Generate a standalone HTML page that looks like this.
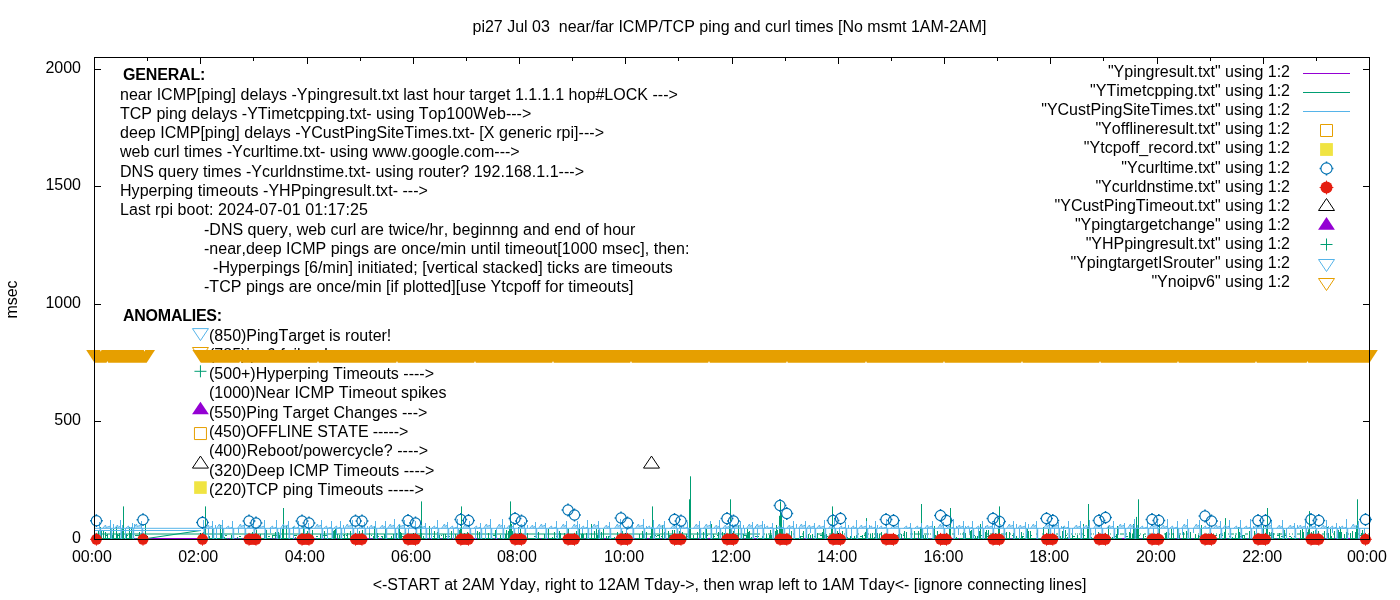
<!DOCTYPE html><html><head><meta charset="utf-8"><title>pi27</title><style>html,body{margin:0;padding:0;background:#fff}</style></head><body><svg width="1400" height="600" viewBox="0 0 1400 600" style="display:block;will-change:transform">
<rect width="1400" height="600" fill="#fff"/>
<path d="M94.50,539.5v-6.5M94.50,57.5v6.5M147.50,539.5v-3.5M147.50,57.5v3.5M200.50,539.5v-6.5M200.50,57.5v6.5M253.50,539.5v-3.5M253.50,57.5v3.5M307.50,539.5v-6.5M307.50,57.5v6.5M360.50,539.5v-3.5M360.50,57.5v3.5M413.50,539.5v-6.5M413.50,57.5v6.5M466.50,539.5v-3.5M466.50,57.5v3.5M519.50,539.5v-6.5M519.50,57.5v6.5M572.50,539.5v-3.5M572.50,57.5v3.5M625.50,539.5v-6.5M625.50,57.5v6.5M678.50,539.5v-3.5M678.50,57.5v3.5M732.50,539.5v-6.5M732.50,57.5v6.5M785.50,539.5v-3.5M785.50,57.5v3.5M838.50,539.5v-6.5M838.50,57.5v6.5M891.50,539.5v-3.5M891.50,57.5v3.5M944.50,539.5v-6.5M944.50,57.5v6.5M997.50,539.5v-3.5M997.50,57.5v3.5M1050.50,539.5v-6.5M1050.50,57.5v6.5M1103.50,539.5v-3.5M1103.50,57.5v3.5M1157.50,539.5v-6.5M1157.50,57.5v6.5M1210.50,539.5v-3.5M1210.50,57.5v3.5M1263.50,539.5v-6.5M1263.50,57.5v6.5M1316.50,539.5v-3.5M1316.50,57.5v3.5M1369.50,539.5v-6.5M1369.50,57.5v6.5M94.5,539.50h6.5M1369.5,539.50h-6.5M94.5,421.50h6.5M1369.5,421.50h-6.5M94.5,304.50h6.5M1369.5,304.50h-6.5M94.5,186.50h6.5M1369.5,186.50h-6.5M94.5,69.50h6.5M1369.5,69.50h-6.5" stroke="#000" stroke-width="1" fill="none"/>
<g font-family="'Liberation Sans', sans-serif" font-size="16px" fill="#000" style="font-kerning:none"><text x="123" y="80" font-weight="bold" textLength="82.4">GENERAL:</text>
<text x="120" y="100" textLength="557.9">near ICMP[ping] delays -Ypingresult.txt last hour target 1.1.1.1 hop#LOCK ---&gt;</text>
<text x="120" y="119">TCP ping delays -YTimetcpping.txt- using Top100Web---&gt;</text>
<text x="120" y="138" textLength="484">deep ICMP[ping] delays -YCustPingSiteTimes.txt- [X generic rpi]---&gt;</text>
<text x="120" y="157">web curl times -Ycurltime.txt- using www.google.com---&gt;</text>
<text x="120" y="177" textLength="464">DNS query times -Ycurldnstime.txt- using router? 192.168.1.1---&gt;</text>
<text x="120" y="196" textLength="307.9">Hyperping timeouts -YHPpingresult.txt- ---&gt;</text>
<text x="120" y="215" textLength="248">Last rpi boot: 2024-07-01 01:17:25</text>
<text x="204" y="235" textLength="431.3">-DNS query, web curl are twice/hr, beginnng and end of hour</text>
<text x="204" y="254" textLength="485.4">-near,deep ICMP pings are once/min until timeout[1000 msec], then:</text>
<text x="213" y="273" textLength="459.8">-Hyperpings [6/min] initiated; [vertical stacked] ticks are timeouts</text>
<text x="204" y="292" textLength="429.4">-TCP pings are once/min [if plotted][use Ytcpoff for timeouts]</text>
<text x="123" y="321" font-weight="bold" textLength="99.1">ANOMALIES:</text>
<text x="209" y="341">(850)PingTarget is router!</text>
<text x="209" y="360">(785)ipv6 failure!</text>
<text x="209" y="379">(500+)Hyperping Timeouts ----&gt;</text>
<text x="209" y="398">(1000)Near ICMP Timeout spikes</text>
<text x="209" y="418">(550)Ping Target Changes ---&gt;</text>
<text x="209" y="437" textLength="199.4">(450)OFFLINE STATE -----&gt;</text>
<text x="209" y="456" textLength="219.1">(400)Reboot/powercycle? ----&gt;</text>
<text x="209" y="476">(320)Deep ICMP Timeouts ----&gt;</text>
<text x="209" y="495">(220)TCP ping Timeouts -----&gt;</text></g>
<path d="M94.5,538.5H1369.5" stroke="#9400d3" stroke-width="1" fill="none"/>
<path d="M94.5,534H760M147,538.5L200.5,530.5M95,538.5h1M96,538.5h1M97.5,539V537M97,538.5h1M98.5,539V531M98,538.5h1M99,538.5h1M100.5,539V527M100,538.5h1M101.5,539V531M101,538.5h1M101,535.5h1M102,538.5h1M103.5,539V530M103,538.5h1M104,538.5h1M105.5,539V532M105,538.5h1M106,538.5h1M106,535.5h2M107.5,539V534M107,538.5h1M108,538.5h1M109,538.5h1M110.5,539V524M110,538.5h1M111,538.5h1M112.5,539V536M112,538.5h1M112,535.5h2M113.5,539V529M113,538.5h1M114,538.5h1M115,538.5h1M116.5,539V527M116,538.5h1M117.5,539V534M117,535.5h2M118,538.5h1M119.5,539V533M119,538.5h1M120,538.5h1M121.5,539V532M121,538.5h1M122.5,539V531M122,538.5h1M123,538.5h1M124,538.5h1M125,538.5h1M126.5,539V534M126,538.5h1M127,538.5h1M127,535.5h1M128,538.5h1M129.5,539V527M129,538.5h1M130.5,539V533M131.5,539V527M131,538.5h1M132,538.5h1M133.5,539V531M133,538.5h1M134,538.5h1M135,535.5h2M136,538.5h1M137,538.5h1M137,535.5h2M138,538.5h1M139.5,539V532M139,538.5h1M140,536.5h2M141.5,539V533M141,538.5h1M142,538.5h1M143,538.5h1M144,538.5h1M145.5,539V524M145,538.5h1M145,535.5h2M146,538.5h1M201,538.5h1M202,538.5h1M203.5,539V532M203,538.5h1M204,538.5h1M205,538.5h1M205,536.5h1M206,538.5h1M207,538.5h1M208,538.5h1M209.5,539V536M209,538.5h1M210,538.5h1M211,538.5h1M212.5,539V529M212,538.5h1M213.5,539V533M213,538.5h1M214,538.5h1M215,538.5h1M216,538.5h1M217,538.5h1M218,538.5h1M219,538.5h1M220.5,539V525M220,538.5h1M221.5,539V533M221,538.5h1M222.5,539V524M222,538.5h1M224.5,539V537M224,538.5h1M225,538.5h1M225,535.5h2M226,538.5h1M228,538.5h1M230,538.5h1M231.5,539V535M231,538.5h1M232,538.5h1M233,538.5h1M235,538.5h1M237.5,539V537M237,538.5h1M239,538.5h1M239,536.5h2M240,538.5h1M241,538.5h1M243,538.5h1M244,538.5h1M245,538.5h1M246,538.5h1M249,538.5h1M250,538.5h1M250,535.5h2M251,538.5h1M252.5,539V532M252,538.5h1M252,536.5h2M253,538.5h1M254.5,539V537M254,538.5h1M256.5,539V530M256,538.5h1M256,536.5h1M257,535.5h1M258.5,539V534M258,538.5h1M259,538.5h1M260.5,539V534M260,538.5h1M261,538.5h1M262,538.5h1M263,538.5h1M264.5,539V533M264,538.5h1M266.5,539V530M266,538.5h1M267,538.5h1M268,538.5h1M268,536.5h2M269,538.5h1M270,538.5h1M272.5,539V535M272,538.5h1M273,538.5h1M273,535.5h2M275.5,539V532M275,538.5h1M276,535.5h1M277,538.5h1M278.5,539V532M278,538.5h1M279.5,539V535M279,538.5h1M280,538.5h1M281,538.5h1M282.5,539V531M282,538.5h1M282,536.5h2M283,538.5h1M284,538.5h1M285,538.5h1M286.5,539V526M287,538.5h1M288,538.5h1M289,538.5h1M290,538.5h1M291,538.5h1M292,538.5h1M293.5,539V527M293,538.5h1M294,535.5h2M295.5,539V537M295,538.5h1M295,535.5h2M296,538.5h1M297,538.5h1M298,538.5h1M299,538.5h1M299,535.5h2M300,538.5h1M301.5,539V537M301,538.5h1M302,538.5h1M303.5,539V526M303,538.5h1M304,538.5h1M305,538.5h1M305,535.5h2M306.5,539V533M306,538.5h1M307.5,539V531M307,538.5h1M307,536.5h1M308,538.5h1M309.5,539V534M309,538.5h1M309,536.5h1M310,538.5h1M311.5,539V536M311,538.5h1M312.5,539V530M312,538.5h1M313,538.5h1M314,538.5h1M316,538.5h1M316,536.5h2M317,538.5h1M318,538.5h1M319,538.5h1M320.5,539V534M320,535.5h1M321,538.5h1M322.5,539V534M322,538.5h1M322,535.5h2M324.5,539V531M324,538.5h1M325,538.5h1M325,535.5h2M326,538.5h1M327.5,539V531M327,538.5h1M328,538.5h1M329,538.5h1M330,538.5h1M331,538.5h1M332.5,539V534M332,538.5h1M333.5,539V531M333,538.5h1M334.5,539V530M334,538.5h1M335.5,539V529M335,538.5h1M337.5,539V534M337,538.5h1M338,538.5h1M339.5,539V535M339,538.5h1M340,538.5h1M341.5,539V532M341,538.5h1M342,538.5h1M343,538.5h1M343,535.5h2M344.5,539V534M345,538.5h1M346,538.5h1M346,535.5h2M347.5,539V533M347,538.5h1M348,538.5h1M349,538.5h1M350.5,539V531M350,538.5h1M351,538.5h1M352,538.5h1M355,538.5h1M356,538.5h1M357.5,539V533M358,538.5h1M359.5,539V531M359,538.5h1M360,538.5h1M361,538.5h1M361,536.5h1M362.5,539V530M362,538.5h1M363.5,539V537M363,538.5h1M364,538.5h1M365,538.5h1M366,538.5h1M369.5,539V531M369,538.5h1M371,538.5h1M371,535.5h1M373.5,539V536M373,538.5h1M374.5,539V526M374,538.5h1M375,538.5h1M376,538.5h1M376,535.5h1M377.5,539V533M377,538.5h1M377,536.5h2M378,538.5h1M380,538.5h1M381,536.5h1M382.5,539V536M382,538.5h1M383,538.5h1M384.5,539V534M385.5,539V529M385,538.5h1M385,536.5h2M387,538.5h1M388,538.5h1M389,538.5h1M390,538.5h1M391.5,539V536M392,538.5h1M393.5,539V534M393,538.5h1M395,538.5h1M396.5,539V533M396,538.5h1M397,538.5h1M398.5,539V537M398,538.5h1M398,535.5h1M399.5,539V524M399,538.5h1M400.5,539V532M401.5,539V533M401,538.5h1M402,538.5h1M402,536.5h2M404,538.5h1M404,536.5h1M405.5,539V532M405,538.5h1M406,538.5h1M407,538.5h1M408,538.5h1M409,538.5h1M410,538.5h1M411,538.5h1M412,538.5h1M412,535.5h2M413,538.5h1M414,538.5h1M415.5,539V533M415,538.5h1M416,538.5h1M417.5,539V535M417,538.5h1M418,538.5h1M419.5,539V535M419,538.5h1M420,538.5h1M420,535.5h2M421.5,539V536M421,538.5h1M422,538.5h1M423.5,539V536M423,538.5h1M424,538.5h1M425,538.5h1M426,538.5h1M427,538.5h1M429.5,539V526M429,538.5h1M431,538.5h1M432,538.5h1M433,538.5h1M433,536.5h2M434.5,539V531M434,538.5h1M435,538.5h1M436,538.5h1M437.5,539V532M437,538.5h1M438,538.5h1M439.5,539V535M440,538.5h1M441,535.5h1M442,538.5h1M443.5,539V534M443,538.5h1M444,538.5h1M445.5,539V534M445,538.5h1M445,536.5h2M446,538.5h1M448,538.5h1M448,536.5h2M449,538.5h1M450,538.5h1M451.5,539V531M451,538.5h1M454,538.5h1M455.5,539V534M455,538.5h1M456,538.5h1M457.5,539V534M457,538.5h1M458,538.5h1M459.5,539V530M459,538.5h1M460,538.5h1M461,538.5h1M462.5,539V534M462,538.5h1M463,538.5h1M464.5,539V533M464,538.5h1M466.5,539V537M467.5,539V532M467,538.5h1M467,536.5h2M468,538.5h1M469,538.5h1M471,538.5h1M472.5,539V537M472,538.5h1M473,538.5h1M475.5,539V534M475,538.5h1M477.5,539V531M477,538.5h1M478,538.5h1M479.5,539V532M480,538.5h1M481.5,539V534M481,538.5h1M482,538.5h1M483,538.5h1M484,538.5h1M485,538.5h1M486,538.5h1M487,538.5h1M488.5,539V533M488,538.5h1M489,538.5h1M490,538.5h1M491.5,539V536M492,538.5h1M493,538.5h1M493,535.5h2M495.5,539V530M495,538.5h1M496,538.5h1M498,538.5h1M499,538.5h1M500.5,539V535M500,538.5h1M501,538.5h1M502,538.5h1M503,538.5h1M504,538.5h1M505.5,539V534M505,538.5h1M506.5,539V530M506,538.5h1M507,538.5h1M508.5,539V531M508,538.5h1M509,538.5h1M510,538.5h1M511.5,539V524M512.5,539V531M512,538.5h1M513,538.5h1M514.5,539V534M514,538.5h1M515,538.5h1M516.5,539V537M516,538.5h1M517,538.5h1M518.5,539V527M518,538.5h1M519.5,539V535M519,538.5h1M520.5,539V529M520,538.5h1M521.5,539V534M521,538.5h1M521,535.5h2M522,538.5h1M523,538.5h1M524.5,539V536M524,538.5h1M526,538.5h1M527.5,539V533M527,538.5h1M528,538.5h1M529,538.5h1M530,538.5h1M531,538.5h1M532,538.5h1M533,538.5h1M534,538.5h1M534,536.5h2M535,538.5h1M536.5,539V537M536,538.5h1M537,538.5h1M538.5,539V532M538,538.5h1M539,538.5h1M541,538.5h1M542,538.5h1M543,538.5h1M544.5,539V534M544,538.5h1M544,536.5h1M545,538.5h1M546,538.5h1M548.5,539V529M548,538.5h1M549,538.5h1M550,538.5h1M551,538.5h1M552.5,539V537M552,538.5h1M553,538.5h1M554.5,539V532M555,538.5h1M556,538.5h1M556,536.5h2M557.5,539V534M557,538.5h1M558,538.5h1M559.5,539V531M559,538.5h1M560.5,539V533M560,538.5h1M561,538.5h1M562,538.5h1M563,538.5h1M564.5,539V533M564,538.5h1M565,538.5h1M566,538.5h1M568.5,539V529M568,538.5h1M570.5,539V537M570,538.5h1M571,538.5h1M573,538.5h1M574.5,539V533M574,538.5h1M576.5,539V531M576,538.5h1M577,538.5h1M578.5,539V534M578,538.5h1M579.5,539V529M579,538.5h1M580,538.5h1M581.5,539V534M582.5,539V531M582,538.5h1M583.5,539V534M583,538.5h1M585,538.5h1M586.5,539V533M586,538.5h1M587,538.5h1M588.5,539V537M588,538.5h1M589,538.5h1M590,538.5h1M591.5,539V524M592,538.5h1M593,538.5h1M594.5,539V531M594,538.5h1M595,538.5h1M596.5,539V529M597.5,539V535M597,538.5h1M598.5,539V530M598,538.5h1M599.5,539V532M599,538.5h1M600,538.5h1M601.5,539V532M601,538.5h1M602,538.5h1M603.5,539V529M603,538.5h1M606.5,539V536M607,538.5h1M608.5,539V536M608,536.5h2M609,538.5h1M610,538.5h1M611,538.5h1M612,538.5h1M613,538.5h1M614.5,539V537M614,538.5h1M617.5,539V532M618,538.5h1M619,538.5h1M621,538.5h1M622.5,539V531M622,538.5h1M623,538.5h1M624,538.5h1M625,538.5h1M626,538.5h1M629.5,539V535M629,538.5h1M631.5,539V536M631,538.5h1M632,538.5h1M633.5,539V534M633,538.5h1M635,538.5h1M636,538.5h1M637,538.5h1M638,538.5h1M639.5,539V534M639,538.5h1M640,538.5h1M641,538.5h1M642.5,539V531M642,538.5h1M643.5,539V534M643,538.5h1M644,538.5h1M645,538.5h1M646.5,539V532M646,538.5h1M649,538.5h1M650.5,539V536M650,538.5h1M651,538.5h1M652.5,539V534M652,538.5h1M654.5,539V532M654,538.5h1M655,538.5h1M655,535.5h1M656,538.5h1M656,536.5h1M657,538.5h1M657,535.5h2M658,538.5h1M659.5,539V534M660,538.5h1M661,536.5h2M662.5,539V525M662,538.5h1M663,538.5h1M664.5,539V532M664,538.5h1M665,538.5h1M667,538.5h1M668.5,539V531M669.5,539V535M669,538.5h1M670,538.5h1M670,535.5h1M671,538.5h1M671,536.5h2M672.5,539V530M672,538.5h1M673.5,539V534M673,538.5h1M674.5,539V530M674,535.5h1M675,538.5h1M677,538.5h1M678,538.5h1M679.5,539V531M679,538.5h1M680,538.5h1M681,538.5h1M682.5,539V532M682,538.5h1M683,538.5h1M684,538.5h1M685,538.5h1M686.5,539V534M686,538.5h1M686,536.5h2M687,538.5h1M688.5,539V531M688,538.5h1M689,538.5h1M690,538.5h1M691,538.5h1M692,538.5h1M693.5,539V535M694,538.5h1M695,538.5h1M696,538.5h1M697.5,539V532M697,538.5h1M699.5,539V529M699,538.5h1M700.5,539V534M700,538.5h1M701,538.5h1M702,538.5h1M703.5,539V532M703,538.5h1M704,538.5h1M705,538.5h1M705,536.5h2M706.5,539V529M706,538.5h1M706,535.5h2M707,538.5h1M710,538.5h1M711.5,539V524M712,538.5h1M713.5,539V534M713,538.5h1M713,536.5h2M714,538.5h1M715,538.5h1M716,538.5h1M717,538.5h1M717,535.5h2M718.5,539V532M718,538.5h1M719,538.5h1M720,538.5h1M720,536.5h1M721,538.5h1M722.5,539V532M722,538.5h1M723,538.5h1M724.5,539V533M725,538.5h1M726,538.5h1M727,538.5h1M728,538.5h1M729.5,539V535M729,538.5h1M729,535.5h1M731.5,539V530M731,538.5h1M733.5,539V531M733,538.5h1M734,538.5h1M735.5,539V534M735,538.5h1M736,538.5h1M736,535.5h2M738.5,539V525M738,538.5h1M739,538.5h1M740,538.5h1M741.5,539V535M741,538.5h1M742,538.5h1M743.5,539V534M743,538.5h1M744,535.5h2M745,538.5h1M746.5,539V535M746,538.5h1M747.5,539V529M747,538.5h1M748.5,539V532M748,538.5h1M749.5,539V531M749,538.5h1M750,538.5h1M751.5,539V537M751,538.5h1M752,538.5h1M753.5,539V534M753,538.5h1M755,536.5h2M756,538.5h1M757.5,539V530M757,538.5h1M758,538.5h1M758,536.5h1M759,538.5h1M760,538.5h1M761,538.5h1M762.5,539V536M762,538.5h1M763,538.5h1M764,538.5h1M764,534h1M765,538.5h1M766.5,539V534M766,538.5h1M766,534h1M767,538.5h1M768,538.5h1M768,534h1M769.5,539V535M769,538.5h1M769,534h1M769,535.5h2M770.5,539V530M770,538.5h1M770,534h1M771.5,539V535M771,538.5h1M771,534h1M772,538.5h1M773,538.5h1M774,538.5h1M775.5,539V531M775,538.5h1M775,534h1M776.5,539V525M776,538.5h1M777.5,539V530M777,534h1M778,538.5h1M778,534h1M779,538.5h1M780.5,539V529M780,534h1M781,538.5h1M782.5,539V529M782,538.5h1M783,538.5h1M783,534h1M783,535.5h1M784.5,539V534M785,536.5h2M786,538.5h1M787.5,539V537M787,534h1M788,538.5h1M788,534h1M789,538.5h1M789,534h1M790,538.5h1M791.5,539V531M791,538.5h1M792,538.5h1M793,538.5h1M793,534h1M794,538.5h1M795,538.5h1M796,538.5h1M797,538.5h1M798,538.5h1M799,538.5h1M799,534h1M800.5,539V536M800,538.5h1M801,538.5h1M801,536.5h2M802,538.5h1M802,534h1M802,536.5h1M803.5,539V531M803,538.5h1M806.5,539V535M807,538.5h1M808.5,539V534M808,538.5h1M809,538.5h1M809,534h1M810.5,539V535M810,538.5h1M812.5,539V534M813,538.5h1M814,538.5h1M814,536.5h2M816,538.5h1M817.5,539V533M817,538.5h1M818,538.5h1M818,534h1M819,538.5h1M819,534h1M820,538.5h1M820,534h1M820,535.5h2M821,538.5h1M821,534h1M822.5,539V532M822,538.5h1M823.5,539V529M823,538.5h1M824.5,539V535M824,538.5h1M824,534h1M824,535.5h2M826.5,539V534M826,538.5h1M826,536.5h2M827,538.5h1M828,538.5h1M829,538.5h1M829,534h1M830,538.5h1M830,534h1M831,538.5h1M832,538.5h1M832,534h1M832,535.5h2M833.5,539V534M833,534h1M833,536.5h2M834,538.5h1M834,534h1M835,538.5h1M836,538.5h1M836,534h1M837.5,539V531M837,538.5h1M838,538.5h1M839.5,539V537M840,538.5h1M840,534h1M841,538.5h1M842.5,539V531M842,538.5h1M843,538.5h1M844,538.5h1M844,534h1M845,538.5h1M846.5,539V532M846,534h1M847.5,539V537M847,538.5h1M848,538.5h1M849,538.5h1M850.5,539V536M850,538.5h1M851,534h1M852,538.5h1M853,538.5h1M854.5,539V536M854,538.5h1M855,538.5h1M856.5,539V535M856,538.5h1M858,538.5h1M858,534h1M859,538.5h1M860,538.5h1M860,536.5h2M861,538.5h1M862.5,539V535M862,538.5h1M863,538.5h1M864,538.5h1M864,534h1M864,535.5h2M865,538.5h1M865,534h1M866,538.5h1M867.5,539V535M867,538.5h1M867,534h1M868,538.5h1M868,534h1M869,538.5h1M870.5,539V534M870,538.5h1M870,534h1M871,538.5h1M872.5,539V533M872,538.5h1M873,538.5h1M874.5,539V537M874,538.5h1M874,534h1M875.5,539V529M875,538.5h1M875,534h1M876,538.5h1M876,535.5h2M877.5,539V533M877,538.5h1M877,534h1M878,538.5h1M879.5,539V534M879,538.5h1M879,534h1M880,538.5h1M880,534h1M881.5,539V532M881,538.5h1M881,534h1M882,538.5h1M883,538.5h1M884,538.5h1M884,534h1M886.5,539V534M886,538.5h1M886,534h1M887,538.5h1M887,534h1M888,538.5h1M889,538.5h1M890,535.5h2M891,538.5h1M892,538.5h1M892,535.5h1M893,538.5h1M895,538.5h1M895,535.5h2M897,535.5h2M898.5,539V534M898,538.5h1M899.5,539V530M899,538.5h1M900,538.5h1M900,534h1M901.5,539V534M901,538.5h1M903,538.5h1M903,534h1M903,535.5h2M904.5,539V531M904,538.5h1M905,538.5h1M906.5,539V532M906,538.5h1M906,534h1M907,538.5h1M908,538.5h1M909,538.5h1M910,538.5h1M910,534h1M911.5,539V531M911,538.5h1M912,538.5h1M912,534h1M913,538.5h1M914.5,539V531M914,538.5h1M915,538.5h1M915,534h1M916,538.5h1M916,534h1M917,534h1M918.5,539V531M918,538.5h1M918,534h1M919,538.5h1M919,534h1M920,538.5h1M920,534h1M921.5,539V536M921,538.5h1M922.5,539V529M922,538.5h1M922,534h1M923.5,539V535M924,538.5h1M924,534h1M925.5,539V535M925,534h1M926,538.5h1M926,534h1M927.5,539V533M927,538.5h1M928,538.5h1M928,534h1M929,538.5h1M930,534h1M931,538.5h1M932,538.5h1M933,538.5h1M933,534h1M934.5,539V526M934,538.5h1M935.5,539V535M935,538.5h1M936,538.5h1M937.5,539V531M937,538.5h1M938,538.5h1M939,538.5h1M940,538.5h1M941,538.5h1M942,538.5h1M943,538.5h1M944,538.5h1M945,538.5h1M946,538.5h1M946,534h1M947,534h1M948,538.5h1M949.5,539V535M949,538.5h1M950,538.5h1M951,538.5h1M952,534h1M953,538.5h1M953,534h1M954.5,539V533M954,538.5h1M954,534h1M955,538.5h1M956.5,539V537M956,538.5h1M957,538.5h1M958,538.5h1M958,534h1M960,538.5h1M960,534h1M961,538.5h1M962,538.5h1M962,534h1M963.5,539V532M963,535.5h1M964,538.5h1M965.5,539V533M965,538.5h1M965,534h1M966,538.5h1M967,538.5h1M968,538.5h1M969,538.5h1M969,534h1M970.5,539V531M970,538.5h1M971.5,539V530M971,538.5h1M972,538.5h1M973.5,539V534M973,538.5h1M973,534h1M974,538.5h1M974,535.5h1M975.5,539V536M975,538.5h1M976,538.5h1M977.5,539V536M977,538.5h1M978,538.5h1M979.5,539V531M979,538.5h1M980.5,539V524M980,538.5h1M980,534h1M980,535.5h2M981,538.5h1M982,538.5h1M983,538.5h1M983,534h1M984,538.5h1M985.5,539V532M985,538.5h1M986.5,539V530M986,538.5h1M986,535.5h1M987,538.5h1M987,534h1M987,536.5h2M988.5,539V530M988,538.5h1M989,538.5h1M989,535.5h2M990.5,539V536M990,538.5h1M990,534h1M991,538.5h1M991,534h1M992.5,539V533M992,538.5h1M993,538.5h1M994,538.5h1M995.5,539V533M995,538.5h1M996,538.5h1M996,534h1M997,538.5h1M997,536.5h2M998.5,539V536M998,538.5h1M998,536.5h2M999,538.5h1M1000,538.5h1M1001,538.5h1M1001,534h1M1002,538.5h1M1002,534h1M1003,538.5h1M1003,534h1M1004,538.5h1M1005,538.5h1M1005,534h1M1006.5,539V532M1007,538.5h1M1008,538.5h1M1009.5,539V532M1009,538.5h1M1010,538.5h1M1010,534h1M1012,538.5h1M1012,535.5h2M1013.5,539V533M1013,538.5h1M1014,538.5h1M1014,534h1M1015,538.5h1M1016.5,539V536M1016,538.5h1M1017,538.5h1M1018,538.5h1M1020,538.5h1M1021.5,539V532M1021,538.5h1M1022.5,539V536M1022,536.5h2M1023,538.5h1M1023,534h1M1024,538.5h1M1025,538.5h1M1026.5,539V534M1026,538.5h1M1027.5,539V529M1027,538.5h1M1028.5,539V531M1028,538.5h1M1029,538.5h1M1030.5,539V531M1030,538.5h1M1030,535.5h2M1031,538.5h1M1032,538.5h1M1033,538.5h1M1034,538.5h1M1035,538.5h1M1036,534h1M1037.5,539V530M1037,534h1M1038,538.5h1M1039,538.5h1M1040,538.5h1M1042.5,539V537M1042,538.5h1M1042,534h1M1042,536.5h2M1043.5,539V527M1043,538.5h1M1044.5,539V536M1044,538.5h1M1046,538.5h1M1046,534h1M1047,538.5h1M1047,534h1M1048.5,539V529M1048,538.5h1M1049,535.5h1M1050,538.5h1M1050,534h1M1051,538.5h1M1052,538.5h1M1052,534h1M1053,538.5h1M1054,538.5h1M1054,534h1M1056,538.5h1M1056,534h1M1057,538.5h1M1057,534h1M1057,536.5h1M1059,538.5h1M1060.5,539V536M1060,538.5h1M1061,538.5h1M1062.5,539V531M1063.5,539V527M1063,538.5h1M1064,538.5h1M1065.5,539V530M1065,538.5h1M1065,534h1M1065,535.5h2M1066,538.5h1M1067.5,539V537M1067,538.5h1M1067,534h1M1069.5,539V535M1069,538.5h1M1070,538.5h1M1071,538.5h1M1071,534h1M1072.5,539V532M1072,538.5h1M1072,534h1M1073,538.5h1M1073,536.5h2M1074,538.5h1M1075,538.5h1M1075,534h1M1076,538.5h1M1077.5,539V535M1077,538.5h1M1077,534h1M1078,538.5h1M1079,538.5h1M1079,534h1M1080,538.5h1M1081.5,539V532M1081,538.5h1M1082,538.5h1M1082,534h1M1083.5,539V524M1083,538.5h1M1083,534h1M1083,535.5h2M1084,538.5h1M1085,538.5h1M1086,538.5h1M1087,538.5h1M1088,538.5h1M1089,538.5h1M1090,538.5h1M1090,534h1M1091.5,539V537M1091,538.5h1M1091,534h1M1092,538.5h1M1093,538.5h1M1093,534h1M1094,538.5h1M1095.5,539V531M1095,538.5h1M1095,534h1M1096,538.5h1M1097,538.5h1M1098.5,539V532M1098,538.5h1M1098,534h1M1098,536.5h2M1099,538.5h1M1100,538.5h1M1100,534h1M1100,535.5h1M1101,538.5h1M1102,538.5h1M1102,534h1M1103,536.5h1M1104.5,539V534M1104,538.5h1M1104,534h1M1105,534h1M1106.5,539V534M1106,538.5h1M1106,536.5h1M1107,538.5h1M1108.5,539V526M1108,538.5h1M1110.5,539V537M1110,534h1M1111,538.5h1M1112.5,539V537M1113,538.5h1M1114.5,539V533M1114,538.5h1M1114,534h1M1115,538.5h1M1115,536.5h1M1116.5,539V534M1116,538.5h1M1117.5,539V526M1117,538.5h1M1118,538.5h1M1119,538.5h1M1120,538.5h1M1120,534h1M1121,538.5h1M1121,534h1M1122,534h1M1123,534h1M1125,538.5h1M1126,538.5h1M1126,534h1M1126,536.5h2M1127,538.5h1M1128,538.5h1M1129.5,539V532M1129,538.5h1M1129,534h1M1129,535.5h2M1130.5,539V532M1130,538.5h1M1130,534h1M1131,538.5h1M1132.5,539V534M1132,538.5h1M1132,534h1M1133.5,539V524M1133,538.5h1M1133,534h1M1134.5,539V525M1134,538.5h1M1134,534h1M1135.5,539V536M1135,538.5h1M1135,534h1M1136,538.5h1M1137.5,539V534M1137,538.5h1M1137,534h1M1138,538.5h1M1139,538.5h1M1139,535.5h1M1140,538.5h1M1140,534h1M1142,538.5h1M1143.5,539V534M1143,538.5h1M1144,538.5h1M1144,534h1M1145,538.5h1M1145,534h1M1145,536.5h1M1146,538.5h1M1147,538.5h1M1148,538.5h1M1148,534h1M1149,534h1M1150,538.5h1M1150,534h1M1151.5,539V534M1151,538.5h1M1151,535.5h1M1152,538.5h1M1153,538.5h1M1154,538.5h1M1154,534h1M1156,538.5h1M1157,538.5h1M1157,534h1M1158,538.5h1M1159.5,539V524M1159,538.5h1M1159,534h1M1160,538.5h1M1161,538.5h1M1162,538.5h1M1163.5,539V537M1164,538.5h1M1164,534h1M1165.5,539V533M1165,538.5h1M1166.5,539V532M1166,538.5h1M1167,538.5h1M1168.5,539V532M1168,538.5h1M1169,538.5h1M1169,534h1M1170,538.5h1M1171.5,539V529M1171,534h1M1172,538.5h1M1172,534h1M1173.5,539V531M1173,538.5h1M1174,538.5h1M1175,538.5h1M1177.5,539V527M1177,538.5h1M1178,538.5h1M1178,534h1M1179.5,539V535M1179,534h1M1179,536.5h1M1180,534h1M1181,538.5h1M1182,538.5h1M1183.5,539V532M1184,538.5h1M1184,534h1M1185,538.5h1M1186.5,539V531M1186,538.5h1M1186,534h1M1187,538.5h1M1187,534h1M1188,538.5h1M1189,538.5h1M1190.5,539V532M1190,534h1M1190,535.5h1M1191,538.5h1M1193,538.5h1M1194,538.5h1M1195.5,539V534M1195,538.5h1M1196,538.5h1M1197,538.5h1M1198.5,539V535M1198,538.5h1M1198,534h1M1199,538.5h1M1199,536.5h2M1200,538.5h1M1201.5,539V525M1201,538.5h1M1202,538.5h1M1203,538.5h1M1204,538.5h1M1205,538.5h1M1206.5,539V534M1206,538.5h1M1206,534h1M1207,538.5h1M1207,535.5h1M1208,538.5h1M1208,534h1M1209,538.5h1M1210.5,539V534M1210,538.5h1M1211,538.5h1M1212,538.5h1M1213.5,539V534M1213,538.5h1M1213,534h1M1214,538.5h1M1215,538.5h1M1215,535.5h2M1216,538.5h1M1216,534h1M1217,538.5h1M1218,538.5h1M1219.5,539V534M1219,538.5h1M1220,538.5h1M1220,534h1M1221,534h1M1222,538.5h1M1222,534h1M1222,535.5h1M1223,538.5h1M1225,538.5h1M1225,534h1M1227,538.5h1M1228,538.5h1M1228,534h1M1229,538.5h1M1229,536.5h2M1230,534h1M1231,538.5h1M1231,534h1M1232.5,539V537M1232,538.5h1M1232,534h1M1233,538.5h1M1233,534h1M1234,538.5h1M1235.5,539V535M1235,538.5h1M1235,534h1M1236,538.5h1M1236,534h1M1237,538.5h1M1238.5,539V527M1238,538.5h1M1238,534h1M1239.5,539V532M1239,538.5h1M1240,534h1M1240,536.5h2M1242.5,539V535M1242,538.5h1M1243,538.5h1M1243,535.5h2M1244.5,539V535M1244,538.5h1M1245,538.5h1M1245,534h1M1246,538.5h1M1246,534h1M1247,534h1M1248,538.5h1M1249.5,539V531M1249,538.5h1M1250,538.5h1M1252,538.5h1M1253,538.5h1M1254.5,539V531M1254,538.5h1M1254,536.5h2M1255,538.5h1M1255,534h1M1257,538.5h1M1257,534h1M1258,538.5h1M1258,534h1M1259.5,539V536M1259,538.5h1M1259,534h1M1260,538.5h1M1260,535.5h2M1261.5,539V534M1261,538.5h1M1262,538.5h1M1263.5,539V526M1263,538.5h1M1264,538.5h1M1265,538.5h1M1266,538.5h1M1267,538.5h1M1268,538.5h1M1269.5,539V532M1269,538.5h1M1269,535.5h2M1270,538.5h1M1270,534h1M1271.5,539V532M1271,538.5h1M1271,534h1M1272,538.5h1M1272,534h1M1273.5,539V533M1273,538.5h1M1273,534h1M1274,538.5h1M1274,534h1M1275,538.5h1M1277,538.5h1M1277,534h1M1277,535.5h2M1278,538.5h1M1278,534h1M1279.5,539V533M1279,538.5h1M1279,534h1M1280,538.5h1M1280,534h1M1281,538.5h1M1281,534h1M1281,536.5h2M1282,538.5h1M1284.5,539V530M1284,538.5h1M1284,534h1M1284,535.5h2M1285,538.5h1M1285,534h1M1286,538.5h1M1287,538.5h1M1288,538.5h1M1289,534h1M1289,536.5h2M1290,538.5h1M1291.5,539V537M1292,538.5h1M1292,534h1M1293,538.5h1M1294,538.5h1M1294,536.5h1M1295,538.5h1M1296,538.5h1M1297,538.5h1M1297,534h1M1298,538.5h1M1298,534h1M1299,534h1M1300.5,539V530M1301,538.5h1M1302.5,539V529M1302,538.5h1M1303.5,539V532M1303,538.5h1M1304,538.5h1M1305,538.5h1M1306,538.5h1M1306,534h1M1307.5,539V532M1307,538.5h1M1307,534h1M1308,534h1M1309,538.5h1M1310,538.5h1M1311.5,539V532M1311,538.5h1M1312,538.5h1M1312,534h1M1313.5,539V531M1313,538.5h1M1313,534h1M1313,536.5h2M1314,538.5h1M1315.5,539V530M1315,538.5h1M1315,536.5h2M1316.5,539V536M1316,538.5h1M1316,534h1M1317,538.5h1M1317,534h1M1318.5,539V531M1318,538.5h1M1319.5,539V534M1319,538.5h1M1320,538.5h1M1321.5,539V536M1321,538.5h1M1321,536.5h1M1322,538.5h1M1322,534h1M1323,538.5h1M1323,534h1M1324.5,539V531M1324,538.5h1M1324,534h1M1326,538.5h1M1326,534h1M1327.5,539V527M1327,538.5h1M1327,534h1M1328.5,539V533M1328,534h1M1329,538.5h1M1330.5,539V529M1330,538.5h1M1330,536.5h2M1331.5,539V537M1332,538.5h1M1333,538.5h1M1333,534h1M1334.5,539V531M1334,538.5h1M1336,538.5h1M1337,538.5h1M1338.5,539V530M1338,538.5h1M1339.5,539V532M1339,538.5h1M1339,534h1M1340.5,539V527M1340,538.5h1M1341.5,539V532M1341,538.5h1M1343,538.5h1M1344.5,539V534M1344,538.5h1M1345,538.5h1M1346.5,539V532M1346,538.5h1M1346,534h1M1347.5,539V532M1347,538.5h1M1347,534h1M1348,534h1M1350.5,539V533M1350,538.5h1M1351,538.5h1M1352.5,539V531M1353,538.5h1M1354,538.5h1M1355.5,539V532M1355,538.5h1M1356,534h1M1357.5,539V531M1357,538.5h1M1357,534h1M1358,534h1M1359,538.5h1M1359,535.5h2M1361.5,539V533M1361,534h1M1362.5,539V530M1362,538.5h1M1363,538.5h1M1363,534h1M1364,538.5h1M1365,538.5h1M1365,534h1M1366.5,539V537M1366,538.5h1M1367,538.5h1M1368,538.5h1M1368,534h1M123.5,539V506.4M122.5,539V527.7M205.5,539V506.4M204.5,539V527.7M283.5,539V508.0M282.5,539V528.3M421.5,539V501.4M420.5,539V526.0M461.5,539V506.4M460.5,539V527.7M510.5,539V501.4M509.5,539V526.0M652.5,539V506.4M651.5,539V527.7M690.5,539V476.3M689.5,539V517.2M730.5,539V499.3M729.5,539V525.3M780.5,539V501.4M779.5,539V526.0M832.5,539V506.4M831.5,539V527.7M866.5,539V518.1M865.5,539V531.9M921.5,539V504.0M920.5,539V526.9M950.5,539V508.0M949.5,539V528.3M999.5,539V506.4M998.5,539V527.7M1088.5,539V504.0M1087.5,539V526.9M1138.5,539V499.3M1137.5,539V525.3M1225.5,539V518.1M1224.5,539V531.9M1267.5,539V508.0M1266.5,539V528.3M1309.5,539V511.1M1308.5,539V529.4M1357.5,539V499.3M1356.5,539V525.3M689.5,539V499.3M781.5,539V513.4M779.5,539V515.8M1136.5,539V516.9" stroke="#009e73" stroke-width="1" fill="none"/>
<path d="M103.5,528.5L105.5,526L106.2,528L110.5,526.5V528.5zM115.5,528.5L117.5,526L118.2,528L120.5,526.5V528.5zM126.5,528.5L128.5,527L129.2,529L132.5,527.5V528.5zM134.5,528.5L136.5,525L137.2,527L141.5,525.5V528.5zM206.5,528.5L208.5,526L209.2,528L212.5,526.5V528.5zM217.5,528.5L219.5,525L220.2,527L222.5,525.5V528.5zM226.5,528.5L228.5,527L229.2,529L232.5,527.5V528.5zM238.5,528.5L240.5,525L241.2,527L244.5,525.5V528.5zM247.5,528.5L249.5,527L250.2,529L253.5,527.5V528.5zM257.5,528.5L259.5,526L260.2,528L264.5,526.5V528.5zM270.5,528.5L272.5,527L273.2,529L276.5,527.5V528.5zM281.5,528.5L283.5,525L284.2,527L288.5,525.5V528.5zM292.5,528.5L294.5,527L295.2,529L298.5,527.5V528.5zM302.5,528.5L304.5,527L305.2,529L308.5,527.5V528.5zM315.5,528.5L317.5,525L318.2,527L321.5,525.5V528.5zM324.5,528.5L326.5,527L327.2,529L331.5,527.5V528.5zM334.5,528.5L336.5,527L337.2,529L340.5,527.5V528.5zM345.5,528.5L347.5,525L348.2,527L352.5,525.5V528.5zM359.5,528.5L361.5,526L362.2,528L364.5,526.5V528.5zM369.5,528.5L371.5,526L372.2,528L375.5,526.5V528.5zM380.5,528.5L382.5,526L383.2,528L385.5,526.5V528.5zM388.5,528.5L390.5,525L391.2,527L394.5,525.5V528.5zM397.5,528.5L399.5,525L400.2,527L404.5,525.5V528.5zM409.5,528.5L411.5,526L412.2,528L415.5,526.5V528.5zM419.5,528.5L421.5,526L422.2,528L425.5,526.5V528.5zM432.5,528.5L434.5,527L435.2,529L437.5,527.5V528.5zM442.5,528.5L444.5,525L445.2,527L447.5,525.5V528.5zM450.5,528.5L452.5,527L453.2,529L457.5,527.5V528.5zM463.5,528.5L465.5,525L466.2,527L469.5,525.5V528.5zM474.5,528.5L476.5,527L477.2,529L480.5,527.5V528.5zM484.5,528.5L486.5,525L487.2,527L490.5,525.5V528.5zM497.5,528.5L499.5,525L500.2,527L502.5,525.5V528.5zM507.5,528.5L509.5,526L510.2,528L513.5,526.5V528.5zM519.5,528.5L521.5,525L522.2,527L524.5,525.5V528.5zM530.5,528.5L532.5,526L533.2,528L535.5,526.5V528.5zM539.5,528.5L541.5,525L542.2,527L545.5,525.5V528.5zM549.5,528.5L551.5,527L552.2,529L556.5,527.5V528.5zM561.5,528.5L563.5,525L564.2,527L566.5,525.5V528.5zM572.5,528.5L574.5,525L575.2,527L577.5,525.5V528.5zM581.5,528.5L583.5,527L584.2,529L587.5,527.5V528.5zM592.5,528.5L594.5,525L595.2,527L598.5,525.5V528.5zM604.5,528.5L606.5,526L607.2,528L609.5,526.5V528.5zM615.5,528.5L617.5,525L618.2,527L620.5,525.5V528.5zM626.5,528.5L628.5,527L629.2,529L632.5,527.5V528.5zM636.5,528.5L638.5,525L639.2,527L643.5,525.5V528.5zM647.5,528.5L649.5,527L650.2,529L653.5,527.5V528.5zM657.5,528.5L659.5,525L660.2,527L664.5,525.5V528.5zM671.5,528.5L673.5,526L674.2,528L676.5,526.5V528.5zM681.5,528.5L683.5,527L684.2,529L687.5,527.5V528.5zM694.5,528.5L696.5,525L697.2,527L699.5,525.5V528.5zM704.5,528.5L706.5,525L707.2,527L710.5,525.5V528.5zM714.5,528.5L716.5,526L717.2,528L719.5,526.5V528.5zM723.5,528.5L725.5,526L726.2,528L730.5,526.5V528.5zM733.5,528.5L735.5,525L736.2,527L740.5,525.5V528.5zM747.5,528.5L749.5,525L750.2,527L752.5,525.5V528.5zM755.5,528.5L757.5,525L758.2,527L762.5,525.5V528.5zM765.5,528.5L767.5,527L768.2,529L772.5,527.5V528.5zM777.5,528.5L779.5,527L780.2,529L783.5,527.5V528.5zM787.5,528.5L789.5,526L790.2,528L793.5,526.5V528.5zM799.5,528.5L801.5,525L802.2,527L805.5,525.5V528.5zM807.5,528.5L809.5,526L810.2,528L814.5,526.5V528.5zM817.5,528.5L819.5,526L820.2,528L824.5,526.5V528.5zM829.5,528.5L831.5,525L832.2,527L834.5,525.5V528.5zM839.5,528.5L841.5,527L842.2,529L845.5,527.5V528.5zM851.5,528.5L853.5,527L854.2,529L856.5,527.5V528.5zM859.5,528.5L861.5,526L862.2,528L866.5,526.5V528.5zM869.5,528.5L871.5,527L872.2,529L875.5,527.5V528.5zM879.5,528.5L881.5,527L882.2,529L886.5,527.5V528.5zM891.5,528.5L893.5,526L894.2,528L898.5,526.5V528.5zM904.5,528.5L906.5,527L907.2,529L910.5,527.5V528.5zM915.5,528.5L917.5,527L918.2,529L921.5,527.5V528.5zM925.5,528.5L927.5,526L928.2,528L932.5,526.5V528.5zM938.5,528.5L940.5,525L941.2,527L943.5,525.5V528.5zM947.5,528.5L949.5,527L950.2,529L953.5,527.5V528.5zM957.5,528.5L959.5,526L960.2,528L963.5,526.5V528.5zM966.5,528.5L968.5,527L969.2,529L972.5,527.5V528.5zM976.5,528.5L978.5,527L979.2,529L982.5,527.5V528.5zM985.5,528.5L987.5,526L988.2,528L992.5,526.5V528.5zM998.5,528.5L1000.5,525L1001.2,527L1003.5,525.5V528.5zM1007.5,528.5L1009.5,525L1010.2,527L1013.5,525.5V528.5zM1018.5,528.5L1020.5,526L1021.2,528L1025.5,526.5V528.5zM1031.5,528.5L1033.5,525L1034.2,527L1036.5,525.5V528.5zM1044.5,528.5L1046.5,525L1047.2,527L1049.5,525.5V528.5zM1051.5,528.5L1053.5,525L1054.2,527L1058.5,525.5V528.5zM1062.5,528.5L1064.5,527L1065.2,529L1068.5,527.5V528.5zM1074.5,528.5L1076.5,526L1077.2,528L1080.5,526.5V528.5zM1084.5,528.5L1086.5,526L1087.2,528L1089.5,526.5V528.5zM1094.5,528.5L1096.5,525L1097.2,527L1101.5,525.5V528.5zM1107.5,528.5L1109.5,526L1110.2,528L1113.5,526.5V528.5zM1118.5,528.5L1120.5,525L1121.2,527L1124.5,525.5V528.5zM1128.5,528.5L1130.5,525L1131.2,527L1134.5,525.5V528.5zM1140.5,528.5L1142.5,527L1143.2,529L1147.5,527.5V528.5zM1150.5,528.5L1152.5,525L1153.2,527L1157.5,525.5V528.5zM1161.5,528.5L1163.5,526L1164.2,528L1167.5,526.5V528.5zM1170.5,528.5L1172.5,527L1173.2,529L1177.5,527.5V528.5zM1182.5,528.5L1184.5,525L1185.2,527L1187.5,525.5V528.5zM1194.5,528.5L1196.5,525L1197.2,527L1199.5,525.5V528.5zM1203.5,528.5L1205.5,527L1206.2,529L1209.5,527.5V528.5zM1214.5,528.5L1216.5,526L1217.2,528L1220.5,526.5V528.5zM1223.5,528.5L1225.5,526L1226.2,528L1229.5,526.5V528.5zM1234.5,528.5L1236.5,527L1237.2,529L1240.5,527.5V528.5zM1244.5,528.5L1246.5,527L1247.2,529L1250.5,527.5V528.5zM1254.5,528.5L1256.5,526L1257.2,528L1261.5,526.5V528.5zM1266.5,528.5L1268.5,525L1269.2,527L1271.5,525.5V528.5zM1277.5,528.5L1279.5,526L1280.2,528L1282.5,526.5V528.5zM1288.5,528.5L1290.5,526L1291.2,528L1294.5,526.5V528.5zM1298.5,528.5L1300.5,526L1301.2,528L1305.5,526.5V528.5zM1309.5,528.5L1311.5,526L1312.2,528L1315.5,526.5V528.5zM1321.5,528.5L1323.5,526L1324.2,528L1326.5,526.5V528.5zM1330.5,528.5L1332.5,527L1333.2,529L1336.5,527.5V528.5zM1340.5,528.5L1342.5,527L1343.2,529L1346.5,527.5V528.5zM1351.5,528.5L1353.5,525L1354.2,527L1358.5,525.5V528.5z" fill="#56b4e9" fill-opacity="0.45" stroke="none"/>
<path d="M94.5,528.3H1369.5M94.5,530.5H201M99.5,528V522M100,528V539M100.7,528V539M110.5,528V520M111,528V539M111.7,528V539M102.5,528.5L105.5,525L106.2,527.5L110.5,526M113.5,528V524M120.5,528V520M121,528V539M121.7,528V539M114.5,528.5L117.5,525L118.2,527.5L120.5,526M125.5,528V539M122.5,528V525M132.5,528V523M133,528V539M133.7,528V539M125.5,528.5L128.5,526L129.2,528.5L132.5,527M134.5,528V524M141.5,528V521M142,528V539M142.7,528V539M133.5,528.5L136.5,524L137.2,526.5L141.5,525M203.5,528V520M204,528V539M204.7,528V539M208.5,528V539M212.5,528V521M213,528V539M213.7,528V539M205.5,528.5L208.5,525L209.2,527.5L212.5,526M216.5,528V539M215.5,528V525M222.5,528V520M223,528V539M223.7,528V539M216.5,528.5L219.5,524L220.2,526.5L222.5,525M232.5,528V521M233,528V539M233.7,528V539M225.5,528.5L228.5,526L229.2,528.5L232.5,527M238.5,528V533M244.5,528V522M245,528V539M245.7,528V539M237.5,528.5L240.5,524L241.2,526.5L244.5,525M253.5,528V520M254,528V539M254.7,528V539M246.5,528.5L249.5,526L250.2,528.5L253.5,527M264.5,528V520M265,528V539M265.7,528V539M256.5,528.5L259.5,525L260.2,527.5L264.5,526M270.5,528V533M276.5,528V520M277,528V539M277.7,528V539M269.5,528.5L272.5,526L273.2,528.5L276.5,527M280.5,528V539M288.5,528V521M289,528V539M289.7,528V539M280.5,528.5L283.5,524L284.2,526.5L288.5,525M293.5,528V539M298.5,528V521M299,528V539M299.7,528V539M291.5,528.5L294.5,526L295.2,528.5L298.5,527M304.5,528V539M308.5,528V523M309,528V539M309.7,528V539M301.5,528.5L304.5,526L305.2,528.5L308.5,527M311.5,528V526M321.5,528V520M322,528V539M322.7,528V539M314.5,528.5L317.5,524L318.2,526.5L321.5,525M327.5,528V539M331.5,528V521M332,528V539M332.7,528V539M323.5,528.5L326.5,526L327.2,528.5L331.5,527M336.5,528V535M340.5,528V521M341,528V539M341.7,528V539M333.5,528.5L336.5,526L337.2,528.5L340.5,527M344.5,528V533M343.5,528V525M352.5,528V520M353,528V539M353.7,528V539M344.5,528.5L347.5,524L348.2,526.5L352.5,525M357.5,528V539M364.5,528V522M365,528V539M365.7,528V539M358.5,528.5L361.5,525L362.2,527.5L364.5,526M369.5,528V533M367.5,528V526M375.5,528V521M376,528V539M376.7,528V539M368.5,528.5L371.5,525L372.2,527.5L375.5,526M385.5,528V521M386,528V539M386.7,528V539M379.5,528.5L382.5,525L383.2,527.5L385.5,526M394.5,528V519M395,528V539M395.7,528V539M387.5,528.5L390.5,524L391.2,526.5L394.5,525M398.5,528V539M404.5,528V520M405,528V539M405.7,528V539M396.5,528.5L399.5,524L400.2,526.5L404.5,525M408.5,528V539M415.5,528V521M416,528V539M416.7,528V539M408.5,528.5L411.5,525L412.2,527.5L415.5,526M421.5,528V533M425.5,528V523M426,528V539M426.7,528V539M418.5,528.5L421.5,525L422.2,527.5L425.5,526M431.5,528V539M437.5,528V520M438,528V539M438.7,528V539M431.5,528.5L434.5,526L435.2,528.5L437.5,527M447.5,528V522M448,528V539M448.7,528V539M441.5,528.5L444.5,524L445.2,526.5L447.5,525M453.5,528V539M457.5,528V519M458,528V539M458.7,528V539M449.5,528.5L452.5,526L453.2,528.5L457.5,527M469.5,528V521M470,528V539M470.7,528V539M462.5,528.5L465.5,524L466.2,526.5L469.5,525M475.5,528V539M480.5,528V523M481,528V539M481.7,528V539M473.5,528.5L476.5,526L477.2,528.5L480.5,527M485.5,528V539M490.5,528V519M491,528V539M491.7,528V539M483.5,528.5L486.5,524L487.2,526.5L490.5,525M496.5,528V539M502.5,528V519M503,528V539M503.7,528V539M496.5,528.5L499.5,524L500.2,526.5L502.5,525M504.5,528V525M513.5,528V522M514,528V539M514.7,528V539M506.5,528.5L509.5,525L510.2,527.5L513.5,526M518.5,528V535M524.5,528V522M525,528V539M525.7,528V539M518.5,528.5L521.5,524L522.2,526.5L524.5,525M527.5,528V525M535.5,528V522M536,528V539M536.7,528V539M529.5,528.5L532.5,525L533.2,527.5L535.5,526M545.5,528V523M546,528V539M546.7,528V539M538.5,528.5L541.5,524L542.2,526.5L545.5,525M556.5,528V521M557,528V539M557.7,528V539M548.5,528.5L551.5,526L552.2,528.5L556.5,527M566.5,528V521M567,528V539M567.7,528V539M560.5,528.5L563.5,524L564.2,526.5L566.5,525M577.5,528V521M578,528V539M578.7,528V539M571.5,528.5L574.5,524L575.2,526.5L577.5,525M582.5,528V533M579.5,528V524M587.5,528V520M588,528V539M588.7,528V539M580.5,528.5L583.5,526L584.2,528.5L587.5,527M591.5,528V533M598.5,528V521M599,528V539M599.7,528V539M591.5,528.5L594.5,524L595.2,526.5L598.5,525M609.5,528V522M610,528V539M610.7,528V539M603.5,528.5L606.5,525L607.2,527.5L609.5,526M620.5,528V519M621,528V539M621.7,528V539M614.5,528.5L617.5,524L618.2,526.5L620.5,525M626.5,528V539M632.5,528V523M633,528V539M633.7,528V539M625.5,528.5L628.5,526L629.2,528.5L632.5,527M643.5,528V519M644,528V539M644.7,528V539M635.5,528.5L638.5,524L639.2,526.5L643.5,525M646.5,528V526M653.5,528V520M654,528V539M654.7,528V539M646.5,528.5L649.5,526L650.2,528.5L653.5,527M659.5,528V533M664.5,528V521M665,528V539M665.7,528V539M656.5,528.5L659.5,524L660.2,526.5L664.5,525M676.5,528V523M677,528V539M677.7,528V539M670.5,528.5L673.5,525L674.2,527.5L676.5,526M680.5,528V535M679.5,528V524M687.5,528V522M688,528V539M688.7,528V539M680.5,528.5L683.5,526L684.2,528.5L687.5,527M699.5,528V521M700,528V539M700.7,528V539M693.5,528.5L696.5,524L697.2,526.5L699.5,525M705.5,528V539M710.5,528V521M711,528V539M711.7,528V539M703.5,528.5L706.5,524L707.2,526.5L710.5,525M716.5,528V533M719.5,528V520M720,528V539M720.7,528V539M713.5,528.5L716.5,525L717.2,527.5L719.5,526M725.5,528V539M730.5,528V521M731,528V539M731.7,528V539M722.5,528.5L725.5,525L726.2,527.5L730.5,526M734.5,528V533M732.5,528V524M740.5,528V521M741,528V539M741.7,528V539M732.5,528.5L735.5,524L736.2,526.5L740.5,525M744.5,528V535M743.5,528V525M752.5,528V522M753,528V539M753.7,528V539M746.5,528.5L749.5,524L750.2,526.5L752.5,525M757.5,528V539M755.5,528V526M762.5,528V521M763,528V539M763.7,528V539M754.5,528.5L757.5,524L758.2,526.5L762.5,525M764.5,528V524M772.5,528V523M773,528V539M773.7,528V539M764.5,528.5L767.5,526L768.2,528.5L772.5,527M783.5,528V520M784,528V539M784.7,528V539M776.5,528.5L779.5,526L780.2,528.5L783.5,527M789.5,528V535M793.5,528V521M794,528V539M794.7,528V539M786.5,528.5L789.5,525L790.2,527.5L793.5,526M799.5,528V539M796.5,528V524M805.5,528V521M806,528V539M806.7,528V539M798.5,528.5L801.5,524L802.2,526.5L805.5,525M810.5,528V533M814.5,528V523M815,528V539M815.7,528V539M806.5,528.5L809.5,525L810.2,527.5L814.5,526M824.5,528V520M825,528V539M825.7,528V539M816.5,528.5L819.5,525L820.2,527.5L824.5,526M834.5,528V519M835,528V539M835.7,528V539M828.5,528.5L831.5,524L832.2,526.5L834.5,525M839.5,528V535M845.5,528V522M846,528V539M846.7,528V539M838.5,528.5L841.5,526L842.2,528.5L845.5,527M851.5,528V539M848.5,528V525M856.5,528V520M857,528V539M857.7,528V539M850.5,528.5L853.5,526L854.2,528.5L856.5,527M866.5,528V521M867,528V539M867.7,528V539M858.5,528.5L861.5,525L862.2,527.5L866.5,526M869.5,528V525M875.5,528V521M876,528V539M876.7,528V539M868.5,528.5L871.5,526L872.2,528.5L875.5,527M877.5,528V525M886.5,528V519M887,528V539M887.7,528V539M878.5,528.5L881.5,526L882.2,528.5L886.5,527M898.5,528V519M899,528V539M899.7,528V539M890.5,528.5L893.5,525L894.2,527.5L898.5,526M910.5,528V523M911,528V539M911.7,528V539M903.5,528.5L906.5,526L907.2,528.5L910.5,527M921.5,528V523M922,528V539M922.7,528V539M914.5,528.5L917.5,526L918.2,528.5L921.5,527M927.5,528V539M932.5,528V521M933,528V539M933.7,528V539M924.5,528.5L927.5,525L928.2,527.5L932.5,526M943.5,528V522M944,528V539M944.7,528V539M937.5,528.5L940.5,524L941.2,526.5L943.5,525M953.5,528V519M954,528V539M954.7,528V539M946.5,528.5L949.5,526L950.2,528.5L953.5,527M958.5,528V535M956.5,528V526M963.5,528V521M964,528V539M964.7,528V539M956.5,528.5L959.5,525L960.2,527.5L963.5,526M969.5,528V533M965.5,528V526M972.5,528V521M973,528V539M973.7,528V539M965.5,528.5L968.5,526L969.2,528.5L972.5,527M978.5,528V539M982.5,528V521M983,528V539M983.7,528V539M975.5,528.5L978.5,526L979.2,528.5L982.5,527M985.5,528V526M992.5,528V521M993,528V539M993.7,528V539M984.5,528.5L987.5,525L988.2,527.5L992.5,526M994.5,528V524M1003.5,528V522M1004,528V539M1004.7,528V539M997.5,528.5L1000.5,524L1001.2,526.5L1003.5,525M1013.5,528V521M1014,528V539M1014.7,528V539M1006.5,528.5L1009.5,524L1010.2,526.5L1013.5,525M1019.5,528V539M1016.5,528V524M1025.5,528V522M1026,528V539M1026.7,528V539M1017.5,528.5L1020.5,525L1021.2,527.5L1025.5,526M1028.5,528V524M1036.5,528V521M1037,528V539M1037.7,528V539M1030.5,528.5L1033.5,524L1034.2,526.5L1036.5,525M1049.5,528V521M1050,528V539M1050.7,528V539M1043.5,528.5L1046.5,524L1047.2,526.5L1049.5,525M1054.5,528V539M1052.5,528V525M1058.5,528V522M1059,528V539M1059.7,528V539M1050.5,528.5L1053.5,524L1054.2,526.5L1058.5,525M1063.5,528V539M1061.5,528V526M1068.5,528V521M1069,528V539M1069.7,528V539M1061.5,528.5L1064.5,526L1065.2,528.5L1068.5,527M1072.5,528V535M1080.5,528V521M1081,528V539M1081.7,528V539M1073.5,528.5L1076.5,525L1077.2,527.5L1080.5,526M1083.5,528V526M1089.5,528V520M1090,528V539M1090.7,528V539M1083.5,528.5L1086.5,525L1087.2,527.5L1089.5,526M1095.5,528V539M1101.5,528V519M1102,528V539M1102.7,528V539M1093.5,528.5L1096.5,524L1097.2,526.5L1101.5,525M1113.5,528V521M1114,528V539M1114.7,528V539M1106.5,528.5L1109.5,525L1110.2,527.5L1113.5,526M1118.5,528V535M1124.5,528V523M1125,528V539M1125.7,528V539M1117.5,528.5L1120.5,524L1121.2,526.5L1124.5,525M1130.5,528V533M1134.5,528V519M1135,528V539M1135.7,528V539M1127.5,528.5L1130.5,524L1131.2,526.5L1134.5,525M1137.5,528V525M1147.5,528V521M1148,528V539M1148.7,528V539M1139.5,528.5L1142.5,526L1143.2,528.5L1147.5,527M1153.5,528V535M1157.5,528V520M1158,528V539M1158.7,528V539M1149.5,528.5L1152.5,524L1153.2,526.5L1157.5,525M1167.5,528V519M1168,528V539M1168.7,528V539M1160.5,528.5L1163.5,525L1164.2,527.5L1167.5,526M1173.5,528V533M1177.5,528V521M1178,528V539M1178.7,528V539M1169.5,528.5L1172.5,526L1173.2,528.5L1177.5,527M1182.5,528V535M1187.5,528V519M1188,528V539M1188.7,528V539M1181.5,528.5L1184.5,524L1185.2,526.5L1187.5,525M1193.5,528V533M1199.5,528V520M1200,528V539M1200.7,528V539M1193.5,528.5L1196.5,524L1197.2,526.5L1199.5,525M1209.5,528V522M1210,528V539M1210.7,528V539M1202.5,528.5L1205.5,526L1206.2,528.5L1209.5,527M1220.5,528V521M1221,528V539M1221.7,528V539M1213.5,528.5L1216.5,525L1217.2,527.5L1220.5,526M1229.5,528V520M1230,528V539M1230.7,528V539M1222.5,528.5L1225.5,525L1226.2,527.5L1229.5,526M1240.5,528V520M1241,528V539M1241.7,528V539M1233.5,528.5L1236.5,526L1237.2,528.5L1240.5,527M1250.5,528V519M1251,528V539M1251.7,528V539M1243.5,528.5L1246.5,526L1247.2,528.5L1250.5,527M1256.5,528V539M1253.5,528V526M1261.5,528V522M1262,528V539M1262.7,528V539M1253.5,528.5L1256.5,525L1257.2,527.5L1261.5,526M1271.5,528V520M1272,528V539M1272.7,528V539M1265.5,528.5L1268.5,524L1269.2,526.5L1271.5,525M1282.5,528V520M1283,528V539M1283.7,528V539M1276.5,528.5L1279.5,525L1280.2,527.5L1282.5,526M1286.5,528V539M1294.5,528V523M1295,528V539M1295.7,528V539M1287.5,528.5L1290.5,525L1291.2,527.5L1294.5,526M1297.5,528V525M1305.5,528V520M1306,528V539M1306.7,528V539M1297.5,528.5L1300.5,525L1301.2,527.5L1305.5,526M1307.5,528V526M1315.5,528V521M1316,528V539M1316.7,528V539M1308.5,528.5L1311.5,525L1312.2,527.5L1315.5,526M1326.5,528V520M1327,528V539M1327.7,528V539M1320.5,528.5L1323.5,525L1324.2,527.5L1326.5,526M1332.5,528V533M1328.5,528V526M1336.5,528V523M1337,528V539M1337.7,528V539M1329.5,528.5L1332.5,526L1333.2,528.5L1336.5,527M1339.5,528V526M1346.5,528V519M1347,528V539M1347.7,528V539M1339.5,528.5L1342.5,526L1343.2,528.5L1346.5,527M1358.5,528V521M1359,528V539M1359.7,528V539M1350.5,528.5L1353.5,524L1354.2,526.5L1358.5,525M1364.5,528V539" stroke="#56b4e9" stroke-width="1" fill="none"/>
<path d="M194.45,427.554h12v12h-12z" fill="none" stroke="#e69f00" stroke-width="1"/>
<path d="M194.14999999999998,481.27639999999997h12.6v12.6h-12.6z" fill="#f0e442" stroke="none"/>
<circle cx="96.4" cy="520.7" r="5.1" fill="none" stroke="#0072b2" stroke-width="1.1"/><path d="M90.0,520.7h1.5M102.80000000000001,520.7h-1.5M96.4,514.3000000000001v1.5M96.4,527.1v-1.5" stroke="#0072b2" stroke-width="1.5" fill="none"/>
<circle cx="143" cy="519.7" r="5.1" fill="none" stroke="#0072b2" stroke-width="1.1"/><path d="M136.6,519.7h1.5M149.4,519.7h-1.5M143,513.3000000000001v1.5M143,526.1v-1.5" stroke="#0072b2" stroke-width="1.5" fill="none"/>
<circle cx="202.5" cy="522.5" r="5.1" fill="none" stroke="#0072b2" stroke-width="1.1"/><path d="M196.1,522.5h1.5M208.9,522.5h-1.5M202.5,516.1v1.5M202.5,528.9v-1.5" stroke="#0072b2" stroke-width="1.5" fill="none"/>
<circle cx="249" cy="521" r="5.1" fill="none" stroke="#0072b2" stroke-width="1.1"/><path d="M242.6,521h1.5M255.4,521h-1.5M249,514.6v1.5M249,527.4v-1.5" stroke="#0072b2" stroke-width="1.5" fill="none"/>
<circle cx="256" cy="523" r="5.1" fill="none" stroke="#0072b2" stroke-width="1.1"/><path d="M249.6,523h1.5M262.4,523h-1.5M256,516.6v1.5M256,529.4v-1.5" stroke="#0072b2" stroke-width="1.5" fill="none"/>
<circle cx="302" cy="521" r="5.1" fill="none" stroke="#0072b2" stroke-width="1.1"/><path d="M295.6,521h1.5M308.4,521h-1.5M302,514.6v1.5M302,527.4v-1.5" stroke="#0072b2" stroke-width="1.5" fill="none"/>
<circle cx="309" cy="523" r="5.1" fill="none" stroke="#0072b2" stroke-width="1.1"/><path d="M302.6,523h1.5M315.4,523h-1.5M309,516.6v1.5M309,529.4v-1.5" stroke="#0072b2" stroke-width="1.5" fill="none"/>
<circle cx="355.5" cy="521" r="5.1" fill="none" stroke="#0072b2" stroke-width="1.1"/><path d="M349.1,521h1.5M361.9,521h-1.5M355.5,514.6v1.5M355.5,527.4v-1.5" stroke="#0072b2" stroke-width="1.5" fill="none"/>
<circle cx="362" cy="521" r="5.1" fill="none" stroke="#0072b2" stroke-width="1.1"/><path d="M355.6,521h1.5M368.4,521h-1.5M362,514.6v1.5M362,527.4v-1.5" stroke="#0072b2" stroke-width="1.5" fill="none"/>
<circle cx="408" cy="520.5" r="5.1" fill="none" stroke="#0072b2" stroke-width="1.1"/><path d="M401.6,520.5h1.5M414.4,520.5h-1.5M408,514.1v1.5M408,526.9v-1.5" stroke="#0072b2" stroke-width="1.5" fill="none"/>
<circle cx="415.5" cy="523" r="5.1" fill="none" stroke="#0072b2" stroke-width="1.1"/><path d="M409.1,523h1.5M421.9,523h-1.5M415.5,516.6v1.5M415.5,529.4v-1.5" stroke="#0072b2" stroke-width="1.5" fill="none"/>
<circle cx="460.8" cy="519.5" r="5.1" fill="none" stroke="#0072b2" stroke-width="1.1"/><path d="M454.40000000000003,519.5h1.5M467.2,519.5h-1.5M460.8,513.1v1.5M460.8,525.9v-1.5" stroke="#0072b2" stroke-width="1.5" fill="none"/>
<circle cx="468.5" cy="520.5" r="5.1" fill="none" stroke="#0072b2" stroke-width="1.1"/><path d="M462.1,520.5h1.5M474.9,520.5h-1.5M468.5,514.1v1.5M468.5,526.9v-1.5" stroke="#0072b2" stroke-width="1.5" fill="none"/>
<circle cx="515" cy="518.5" r="5.1" fill="none" stroke="#0072b2" stroke-width="1.1"/><path d="M508.6,518.5h1.5M521.4,518.5h-1.5M515,512.1v1.5M515,524.9v-1.5" stroke="#0072b2" stroke-width="1.5" fill="none"/>
<circle cx="521.5" cy="521" r="5.1" fill="none" stroke="#0072b2" stroke-width="1.1"/><path d="M515.1,521h1.5M527.9,521h-1.5M521.5,514.6v1.5M521.5,527.4v-1.5" stroke="#0072b2" stroke-width="1.5" fill="none"/>
<circle cx="568" cy="510" r="5.1" fill="none" stroke="#0072b2" stroke-width="1.1"/><path d="M561.6,510h1.5M574.4,510h-1.5M568,503.6v1.5M568,516.4v-1.5" stroke="#0072b2" stroke-width="1.5" fill="none"/>
<circle cx="574.5" cy="515" r="5.1" fill="none" stroke="#0072b2" stroke-width="1.1"/><path d="M568.1,515h1.5M580.9,515h-1.5M574.5,508.6v1.5M574.5,521.4v-1.5" stroke="#0072b2" stroke-width="1.5" fill="none"/>
<circle cx="621" cy="518" r="5.1" fill="none" stroke="#0072b2" stroke-width="1.1"/><path d="M614.6,518h1.5M627.4,518h-1.5M621,511.6v1.5M621,524.4v-1.5" stroke="#0072b2" stroke-width="1.5" fill="none"/>
<circle cx="627.5" cy="523" r="5.1" fill="none" stroke="#0072b2" stroke-width="1.1"/><path d="M621.1,523h1.5M633.9,523h-1.5M627.5,516.6v1.5M627.5,529.4v-1.5" stroke="#0072b2" stroke-width="1.5" fill="none"/>
<circle cx="674.5" cy="519.5" r="5.1" fill="none" stroke="#0072b2" stroke-width="1.1"/><path d="M668.1,519.5h1.5M680.9,519.5h-1.5M674.5,513.1v1.5M674.5,525.9v-1.5" stroke="#0072b2" stroke-width="1.5" fill="none"/>
<circle cx="681" cy="521" r="5.1" fill="none" stroke="#0072b2" stroke-width="1.1"/><path d="M674.6,521h1.5M687.4,521h-1.5M681,514.6v1.5M681,527.4v-1.5" stroke="#0072b2" stroke-width="1.5" fill="none"/>
<circle cx="727" cy="518.5" r="5.1" fill="none" stroke="#0072b2" stroke-width="1.1"/><path d="M720.6,518.5h1.5M733.4,518.5h-1.5M727,512.1v1.5M727,524.9v-1.5" stroke="#0072b2" stroke-width="1.5" fill="none"/>
<circle cx="733.5" cy="521" r="5.1" fill="none" stroke="#0072b2" stroke-width="1.1"/><path d="M727.1,521h1.5M739.9,521h-1.5M733.5,514.6v1.5M733.5,527.4v-1.5" stroke="#0072b2" stroke-width="1.5" fill="none"/>
<circle cx="780" cy="505.5" r="5.1" fill="none" stroke="#0072b2" stroke-width="1.1"/><path d="M773.6,505.5h1.5M786.4,505.5h-1.5M780,499.1v1.5M780,511.9v-1.5" stroke="#0072b2" stroke-width="1.5" fill="none"/>
<circle cx="786.8" cy="513.5" r="5.1" fill="none" stroke="#0072b2" stroke-width="1.1"/><path d="M780.4,513.5h1.5M793.1999999999999,513.5h-1.5M786.8,507.1v1.5M786.8,519.9v-1.5" stroke="#0072b2" stroke-width="1.5" fill="none"/>
<circle cx="833" cy="520.5" r="5.1" fill="none" stroke="#0072b2" stroke-width="1.1"/><path d="M826.6,520.5h1.5M839.4,520.5h-1.5M833,514.1v1.5M833,526.9v-1.5" stroke="#0072b2" stroke-width="1.5" fill="none"/>
<circle cx="840.5" cy="518.5" r="5.1" fill="none" stroke="#0072b2" stroke-width="1.1"/><path d="M834.1,518.5h1.5M846.9,518.5h-1.5M840.5,512.1v1.5M840.5,524.9v-1.5" stroke="#0072b2" stroke-width="1.5" fill="none"/>
<circle cx="886" cy="519.5" r="5.1" fill="none" stroke="#0072b2" stroke-width="1.1"/><path d="M879.6,519.5h1.5M892.4,519.5h-1.5M886,513.1v1.5M886,525.9v-1.5" stroke="#0072b2" stroke-width="1.5" fill="none"/>
<circle cx="893.5" cy="520.5" r="5.1" fill="none" stroke="#0072b2" stroke-width="1.1"/><path d="M887.1,520.5h1.5M899.9,520.5h-1.5M893.5,514.1v1.5M893.5,526.9v-1.5" stroke="#0072b2" stroke-width="1.5" fill="none"/>
<circle cx="940.5" cy="515.5" r="5.1" fill="none" stroke="#0072b2" stroke-width="1.1"/><path d="M934.1,515.5h1.5M946.9,515.5h-1.5M940.5,509.1v1.5M940.5,521.9v-1.5" stroke="#0072b2" stroke-width="1.5" fill="none"/>
<circle cx="946.5" cy="520.5" r="5.1" fill="none" stroke="#0072b2" stroke-width="1.1"/><path d="M940.1,520.5h1.5M952.9,520.5h-1.5M946.5,514.1v1.5M946.5,526.9v-1.5" stroke="#0072b2" stroke-width="1.5" fill="none"/>
<circle cx="993" cy="518.5" r="5.1" fill="none" stroke="#0072b2" stroke-width="1.1"/><path d="M986.6,518.5h1.5M999.4,518.5h-1.5M993,512.1v1.5M993,524.9v-1.5" stroke="#0072b2" stroke-width="1.5" fill="none"/>
<circle cx="999.5" cy="521.5" r="5.1" fill="none" stroke="#0072b2" stroke-width="1.1"/><path d="M993.1,521.5h1.5M1005.9,521.5h-1.5M999.5,515.1v1.5M999.5,527.9v-1.5" stroke="#0072b2" stroke-width="1.5" fill="none"/>
<circle cx="1046.5" cy="518.5" r="5.1" fill="none" stroke="#0072b2" stroke-width="1.1"/><path d="M1040.1,518.5h1.5M1052.9,518.5h-1.5M1046.5,512.1v1.5M1046.5,524.9v-1.5" stroke="#0072b2" stroke-width="1.5" fill="none"/>
<circle cx="1052.8" cy="520.5" r="5.1" fill="none" stroke="#0072b2" stroke-width="1.1"/><path d="M1046.3999999999999,520.5h1.5M1059.2,520.5h-1.5M1052.8,514.1v1.5M1052.8,526.9v-1.5" stroke="#0072b2" stroke-width="1.5" fill="none"/>
<circle cx="1099" cy="520.5" r="5.1" fill="none" stroke="#0072b2" stroke-width="1.1"/><path d="M1092.6,520.5h1.5M1105.4,520.5h-1.5M1099,514.1v1.5M1099,526.9v-1.5" stroke="#0072b2" stroke-width="1.5" fill="none"/>
<circle cx="1105.5" cy="517.5" r="5.1" fill="none" stroke="#0072b2" stroke-width="1.1"/><path d="M1099.1,517.5h1.5M1111.9,517.5h-1.5M1105.5,511.1v1.5M1105.5,523.9v-1.5" stroke="#0072b2" stroke-width="1.5" fill="none"/>
<circle cx="1152" cy="519.5" r="5.1" fill="none" stroke="#0072b2" stroke-width="1.1"/><path d="M1145.6,519.5h1.5M1158.4,519.5h-1.5M1152,513.1v1.5M1152,525.9v-1.5" stroke="#0072b2" stroke-width="1.5" fill="none"/>
<circle cx="1158.8" cy="520.5" r="5.1" fill="none" stroke="#0072b2" stroke-width="1.1"/><path d="M1152.3999999999999,520.5h1.5M1165.2,520.5h-1.5M1158.8,514.1v1.5M1158.8,526.9v-1.5" stroke="#0072b2" stroke-width="1.5" fill="none"/>
<circle cx="1205" cy="516" r="5.1" fill="none" stroke="#0072b2" stroke-width="1.1"/><path d="M1198.6,516h1.5M1211.4,516h-1.5M1205,509.6v1.5M1205,522.4v-1.5" stroke="#0072b2" stroke-width="1.5" fill="none"/>
<circle cx="1211.5" cy="521" r="5.1" fill="none" stroke="#0072b2" stroke-width="1.1"/><path d="M1205.1,521h1.5M1217.9,521h-1.5M1211.5,514.6v1.5M1211.5,527.4v-1.5" stroke="#0072b2" stroke-width="1.5" fill="none"/>
<circle cx="1258" cy="520.5" r="5.1" fill="none" stroke="#0072b2" stroke-width="1.1"/><path d="M1251.6,520.5h1.5M1264.4,520.5h-1.5M1258,514.1v1.5M1258,526.9v-1.5" stroke="#0072b2" stroke-width="1.5" fill="none"/>
<circle cx="1265.5" cy="520.5" r="5.1" fill="none" stroke="#0072b2" stroke-width="1.1"/><path d="M1259.1,520.5h1.5M1271.9,520.5h-1.5M1265.5,514.1v1.5M1265.5,526.9v-1.5" stroke="#0072b2" stroke-width="1.5" fill="none"/>
<circle cx="1311" cy="519.5" r="5.1" fill="none" stroke="#0072b2" stroke-width="1.1"/><path d="M1304.6,519.5h1.5M1317.4,519.5h-1.5M1311,513.1v1.5M1311,525.9v-1.5" stroke="#0072b2" stroke-width="1.5" fill="none"/>
<circle cx="1318.8" cy="520.5" r="5.1" fill="none" stroke="#0072b2" stroke-width="1.1"/><path d="M1312.3999999999999,520.5h1.5M1325.2,520.5h-1.5M1318.8,514.1v1.5M1318.8,526.9v-1.5" stroke="#0072b2" stroke-width="1.5" fill="none"/>
<circle cx="1365.5" cy="519.5" r="5.1" fill="none" stroke="#0072b2" stroke-width="1.1"/><path d="M1359.1,519.5h1.5M1371.9,519.5h-1.5M1365.5,513.1v1.5M1365.5,525.9v-1.5" stroke="#0072b2" stroke-width="1.5" fill="none"/>
<circle cx="96.4" cy="539.3" r="5.5" fill="#e51e10"/><path d="M90.0,539.3h1.5M102.80000000000001,539.3h-1.5M96.4,532.9v1.5M96.4,545.6999999999999v-1.5" stroke="#e51e10" stroke-width="1" fill="none"/>
<circle cx="143" cy="539.3" r="5.5" fill="#e51e10"/><path d="M136.6,539.3h1.5M149.4,539.3h-1.5M143,532.9v1.5M143,545.6999999999999v-1.5" stroke="#e51e10" stroke-width="1" fill="none"/>
<circle cx="202.5" cy="539.3" r="5.5" fill="#e51e10"/><path d="M196.1,539.3h1.5M208.9,539.3h-1.5M202.5,532.9v1.5M202.5,545.6999999999999v-1.5" stroke="#e51e10" stroke-width="1" fill="none"/>
<circle cx="249" cy="539.3" r="5.5" fill="#e51e10"/><path d="M242.6,539.3h1.5M255.4,539.3h-1.5M249,532.9v1.5M249,545.6999999999999v-1.5" stroke="#e51e10" stroke-width="1" fill="none"/>
<circle cx="256" cy="539.3" r="5.5" fill="#e51e10"/><path d="M249.6,539.3h1.5M262.4,539.3h-1.5M256,532.9v1.5M256,545.6999999999999v-1.5" stroke="#e51e10" stroke-width="1" fill="none"/>
<circle cx="302" cy="539.3" r="5.5" fill="#e51e10"/><path d="M295.6,539.3h1.5M308.4,539.3h-1.5M302,532.9v1.5M302,545.6999999999999v-1.5" stroke="#e51e10" stroke-width="1" fill="none"/>
<circle cx="309" cy="539.3" r="5.5" fill="#e51e10"/><path d="M302.6,539.3h1.5M315.4,539.3h-1.5M309,532.9v1.5M309,545.6999999999999v-1.5" stroke="#e51e10" stroke-width="1" fill="none"/>
<circle cx="355.5" cy="539.3" r="5.5" fill="#e51e10"/><path d="M349.1,539.3h1.5M361.9,539.3h-1.5M355.5,532.9v1.5M355.5,545.6999999999999v-1.5" stroke="#e51e10" stroke-width="1" fill="none"/>
<circle cx="362" cy="539.3" r="5.5" fill="#e51e10"/><path d="M355.6,539.3h1.5M368.4,539.3h-1.5M362,532.9v1.5M362,545.6999999999999v-1.5" stroke="#e51e10" stroke-width="1" fill="none"/>
<circle cx="408" cy="539.3" r="5.5" fill="#e51e10"/><path d="M401.6,539.3h1.5M414.4,539.3h-1.5M408,532.9v1.5M408,545.6999999999999v-1.5" stroke="#e51e10" stroke-width="1" fill="none"/>
<circle cx="415.5" cy="539.3" r="5.5" fill="#e51e10"/><path d="M409.1,539.3h1.5M421.9,539.3h-1.5M415.5,532.9v1.5M415.5,545.6999999999999v-1.5" stroke="#e51e10" stroke-width="1" fill="none"/>
<circle cx="460.8" cy="539.3" r="5.5" fill="#e51e10"/><path d="M454.40000000000003,539.3h1.5M467.2,539.3h-1.5M460.8,532.9v1.5M460.8,545.6999999999999v-1.5" stroke="#e51e10" stroke-width="1" fill="none"/>
<circle cx="468.5" cy="539.3" r="5.5" fill="#e51e10"/><path d="M462.1,539.3h1.5M474.9,539.3h-1.5M468.5,532.9v1.5M468.5,545.6999999999999v-1.5" stroke="#e51e10" stroke-width="1" fill="none"/>
<circle cx="515" cy="539.3" r="5.5" fill="#e51e10"/><path d="M508.6,539.3h1.5M521.4,539.3h-1.5M515,532.9v1.5M515,545.6999999999999v-1.5" stroke="#e51e10" stroke-width="1" fill="none"/>
<circle cx="521.5" cy="539.3" r="5.5" fill="#e51e10"/><path d="M515.1,539.3h1.5M527.9,539.3h-1.5M521.5,532.9v1.5M521.5,545.6999999999999v-1.5" stroke="#e51e10" stroke-width="1" fill="none"/>
<circle cx="568" cy="539.3" r="5.5" fill="#e51e10"/><path d="M561.6,539.3h1.5M574.4,539.3h-1.5M568,532.9v1.5M568,545.6999999999999v-1.5" stroke="#e51e10" stroke-width="1" fill="none"/>
<circle cx="574.5" cy="539.3" r="5.5" fill="#e51e10"/><path d="M568.1,539.3h1.5M580.9,539.3h-1.5M574.5,532.9v1.5M574.5,545.6999999999999v-1.5" stroke="#e51e10" stroke-width="1" fill="none"/>
<circle cx="621" cy="539.3" r="5.5" fill="#e51e10"/><path d="M614.6,539.3h1.5M627.4,539.3h-1.5M621,532.9v1.5M621,545.6999999999999v-1.5" stroke="#e51e10" stroke-width="1" fill="none"/>
<circle cx="627.5" cy="539.3" r="5.5" fill="#e51e10"/><path d="M621.1,539.3h1.5M633.9,539.3h-1.5M627.5,532.9v1.5M627.5,545.6999999999999v-1.5" stroke="#e51e10" stroke-width="1" fill="none"/>
<circle cx="674.5" cy="539.3" r="5.5" fill="#e51e10"/><path d="M668.1,539.3h1.5M680.9,539.3h-1.5M674.5,532.9v1.5M674.5,545.6999999999999v-1.5" stroke="#e51e10" stroke-width="1" fill="none"/>
<circle cx="681" cy="539.3" r="5.5" fill="#e51e10"/><path d="M674.6,539.3h1.5M687.4,539.3h-1.5M681,532.9v1.5M681,545.6999999999999v-1.5" stroke="#e51e10" stroke-width="1" fill="none"/>
<circle cx="727" cy="539.3" r="5.5" fill="#e51e10"/><path d="M720.6,539.3h1.5M733.4,539.3h-1.5M727,532.9v1.5M727,545.6999999999999v-1.5" stroke="#e51e10" stroke-width="1" fill="none"/>
<circle cx="733.5" cy="539.3" r="5.5" fill="#e51e10"/><path d="M727.1,539.3h1.5M739.9,539.3h-1.5M733.5,532.9v1.5M733.5,545.6999999999999v-1.5" stroke="#e51e10" stroke-width="1" fill="none"/>
<circle cx="780" cy="539.3" r="5.5" fill="#e51e10"/><path d="M773.6,539.3h1.5M786.4,539.3h-1.5M780,532.9v1.5M780,545.6999999999999v-1.5" stroke="#e51e10" stroke-width="1" fill="none"/>
<circle cx="786.8" cy="539.3" r="5.5" fill="#e51e10"/><path d="M780.4,539.3h1.5M793.1999999999999,539.3h-1.5M786.8,532.9v1.5M786.8,545.6999999999999v-1.5" stroke="#e51e10" stroke-width="1" fill="none"/>
<circle cx="833" cy="539.3" r="5.5" fill="#e51e10"/><path d="M826.6,539.3h1.5M839.4,539.3h-1.5M833,532.9v1.5M833,545.6999999999999v-1.5" stroke="#e51e10" stroke-width="1" fill="none"/>
<circle cx="840.5" cy="539.3" r="5.5" fill="#e51e10"/><path d="M834.1,539.3h1.5M846.9,539.3h-1.5M840.5,532.9v1.5M840.5,545.6999999999999v-1.5" stroke="#e51e10" stroke-width="1" fill="none"/>
<circle cx="886" cy="539.3" r="5.5" fill="#e51e10"/><path d="M879.6,539.3h1.5M892.4,539.3h-1.5M886,532.9v1.5M886,545.6999999999999v-1.5" stroke="#e51e10" stroke-width="1" fill="none"/>
<circle cx="893.5" cy="539.3" r="5.5" fill="#e51e10"/><path d="M887.1,539.3h1.5M899.9,539.3h-1.5M893.5,532.9v1.5M893.5,545.6999999999999v-1.5" stroke="#e51e10" stroke-width="1" fill="none"/>
<circle cx="940.5" cy="539.3" r="5.5" fill="#e51e10"/><path d="M934.1,539.3h1.5M946.9,539.3h-1.5M940.5,532.9v1.5M940.5,545.6999999999999v-1.5" stroke="#e51e10" stroke-width="1" fill="none"/>
<circle cx="946.5" cy="539.3" r="5.5" fill="#e51e10"/><path d="M940.1,539.3h1.5M952.9,539.3h-1.5M946.5,532.9v1.5M946.5,545.6999999999999v-1.5" stroke="#e51e10" stroke-width="1" fill="none"/>
<circle cx="993" cy="539.3" r="5.5" fill="#e51e10"/><path d="M986.6,539.3h1.5M999.4,539.3h-1.5M993,532.9v1.5M993,545.6999999999999v-1.5" stroke="#e51e10" stroke-width="1" fill="none"/>
<circle cx="999.5" cy="539.3" r="5.5" fill="#e51e10"/><path d="M993.1,539.3h1.5M1005.9,539.3h-1.5M999.5,532.9v1.5M999.5,545.6999999999999v-1.5" stroke="#e51e10" stroke-width="1" fill="none"/>
<circle cx="1046.5" cy="539.3" r="5.5" fill="#e51e10"/><path d="M1040.1,539.3h1.5M1052.9,539.3h-1.5M1046.5,532.9v1.5M1046.5,545.6999999999999v-1.5" stroke="#e51e10" stroke-width="1" fill="none"/>
<circle cx="1052.8" cy="539.3" r="5.5" fill="#e51e10"/><path d="M1046.3999999999999,539.3h1.5M1059.2,539.3h-1.5M1052.8,532.9v1.5M1052.8,545.6999999999999v-1.5" stroke="#e51e10" stroke-width="1" fill="none"/>
<circle cx="1099" cy="539.3" r="5.5" fill="#e51e10"/><path d="M1092.6,539.3h1.5M1105.4,539.3h-1.5M1099,532.9v1.5M1099,545.6999999999999v-1.5" stroke="#e51e10" stroke-width="1" fill="none"/>
<circle cx="1105.5" cy="539.3" r="5.5" fill="#e51e10"/><path d="M1099.1,539.3h1.5M1111.9,539.3h-1.5M1105.5,532.9v1.5M1105.5,545.6999999999999v-1.5" stroke="#e51e10" stroke-width="1" fill="none"/>
<circle cx="1152" cy="539.3" r="5.5" fill="#e51e10"/><path d="M1145.6,539.3h1.5M1158.4,539.3h-1.5M1152,532.9v1.5M1152,545.6999999999999v-1.5" stroke="#e51e10" stroke-width="1" fill="none"/>
<circle cx="1158.8" cy="539.3" r="5.5" fill="#e51e10"/><path d="M1152.3999999999999,539.3h1.5M1165.2,539.3h-1.5M1158.8,532.9v1.5M1158.8,545.6999999999999v-1.5" stroke="#e51e10" stroke-width="1" fill="none"/>
<circle cx="1205" cy="539.3" r="5.5" fill="#e51e10"/><path d="M1198.6,539.3h1.5M1211.4,539.3h-1.5M1205,532.9v1.5M1205,545.6999999999999v-1.5" stroke="#e51e10" stroke-width="1" fill="none"/>
<circle cx="1211.5" cy="539.3" r="5.5" fill="#e51e10"/><path d="M1205.1,539.3h1.5M1217.9,539.3h-1.5M1211.5,532.9v1.5M1211.5,545.6999999999999v-1.5" stroke="#e51e10" stroke-width="1" fill="none"/>
<circle cx="1258" cy="539.3" r="5.5" fill="#e51e10"/><path d="M1251.6,539.3h1.5M1264.4,539.3h-1.5M1258,532.9v1.5M1258,545.6999999999999v-1.5" stroke="#e51e10" stroke-width="1" fill="none"/>
<circle cx="1265.5" cy="539.3" r="5.5" fill="#e51e10"/><path d="M1259.1,539.3h1.5M1271.9,539.3h-1.5M1265.5,532.9v1.5M1265.5,545.6999999999999v-1.5" stroke="#e51e10" stroke-width="1" fill="none"/>
<circle cx="1311" cy="539.3" r="5.5" fill="#e51e10"/><path d="M1304.6,539.3h1.5M1317.4,539.3h-1.5M1311,532.9v1.5M1311,545.6999999999999v-1.5" stroke="#e51e10" stroke-width="1" fill="none"/>
<circle cx="1318.8" cy="539.3" r="5.5" fill="#e51e10"/><path d="M1312.3999999999999,539.3h1.5M1325.2,539.3h-1.5M1318.8,532.9v1.5M1318.8,545.6999999999999v-1.5" stroke="#e51e10" stroke-width="1" fill="none"/>
<circle cx="1365.5" cy="539.3" r="5.5" fill="#e51e10"/><path d="M1359.1,539.3h1.5M1371.9,539.3h-1.5M1365.5,532.9v1.5M1365.5,545.6999999999999v-1.5" stroke="#e51e10" stroke-width="1" fill="none"/>
<rect x="249" y="533.8" width="7" height="11" fill="#e51e10"/>
<rect x="302" y="533.8" width="7" height="11" fill="#e51e10"/>
<rect x="355.5" y="533.8" width="6.5" height="11" fill="#e51e10"/>
<rect x="408" y="533.8" width="7.5" height="11" fill="#e51e10"/>
<rect x="460.8" y="533.8" width="7.699999999999989" height="11" fill="#e51e10"/>
<rect x="515" y="533.8" width="6.5" height="11" fill="#e51e10"/>
<rect x="568" y="533.8" width="6.5" height="11" fill="#e51e10"/>
<rect x="621" y="533.8" width="6.5" height="11" fill="#e51e10"/>
<rect x="674.5" y="533.8" width="6.5" height="11" fill="#e51e10"/>
<rect x="727" y="533.8" width="6.5" height="11" fill="#e51e10"/>
<rect x="780" y="533.8" width="6.7999999999999545" height="11" fill="#e51e10"/>
<rect x="833" y="533.8" width="7.5" height="11" fill="#e51e10"/>
<rect x="886" y="533.8" width="7.5" height="11" fill="#e51e10"/>
<rect x="940.5" y="533.8" width="6.0" height="11" fill="#e51e10"/>
<rect x="993" y="533.8" width="6.5" height="11" fill="#e51e10"/>
<rect x="1046.5" y="533.8" width="6.2999999999999545" height="11" fill="#e51e10"/>
<rect x="1099" y="533.8" width="6.5" height="11" fill="#e51e10"/>
<rect x="1152" y="533.8" width="6.7999999999999545" height="11" fill="#e51e10"/>
<rect x="1205" y="533.8" width="6.5" height="11" fill="#e51e10"/>
<rect x="1258" y="533.8" width="7.5" height="11" fill="#e51e10"/>
<rect x="1311" y="533.8" width="7.7999999999999545" height="11" fill="#e51e10"/>
<path d="M200.45,456.09L192.45,468.09L208.45,468.09zM651.5,456.09L643.50,468.09L659.50,468.09z" fill="none" stroke="#000" stroke-width="1"/>
<path d="M200.45,401.67L192.05,414.27L208.85,414.27z" fill="#9400d3"/>
<path d="M194.45,371.3h12M200.45,365.3v12" fill="none" stroke="#009e73" stroke-width="1"/>
<path d="M200.45,340.60L192.45,328.60L208.45,328.60z" fill="none" stroke="#56b4e9" stroke-width="1"/>
<path d="M200.45,359.50L192.45,347.50L208.45,347.50z" fill="none" stroke="#e69f00" stroke-width="1"/>
<path d="M86.2,350.1L155.0,350.1L146.7,362.7L94.5,362.7z" fill="#e69f00"/>
<path d="M192.4,350.1L1377.8,350.1L1369.5,362.7L200.8,362.7z" fill="#e69f00"/>
<path d="M106.5,362.9L107.4,361.1L108.30000000000001,362.9zM239.29999999999998,362.9L240.2,361.1L241.1,362.9zM317.1,362.9L318,361.1L318.9,362.9zM396.1,362.9L397,361.1L397.9,362.9zM474.1,362.9L475,361.1L475.9,362.9zM552.1,362.9L553,361.1L553.9,362.9zM630.1,362.9L631,361.1L631.9,362.9zM708.1,362.9L709,361.1L709.9,362.9zM786.1,362.9L787,361.1L787.9,362.9zM865.1,362.9L866,361.1L866.9,362.9zM943.1,362.9L944,361.1L944.9,362.9zM1021.1,362.9L1022,361.1L1022.9,362.9zM1099.1,362.9L1100,361.1L1100.9,362.9zM1177.1,362.9L1178,361.1L1178.9,362.9zM1255.1,362.9L1256,361.1L1256.9,362.9zM1306.6,362.9L1307.5,361.1L1308.4,362.9zM100.1,349.9L100.8,351.7L101.5,349.9zM143.8,349.9L144.5,351.7L145.2,349.9z" fill="#fff"/>
<path d="M1303,73.5H1350" stroke="#9400d3" stroke-width="1" fill="none"/>
<path d="M1303,92.5H1350" stroke="#009e73" stroke-width="1" fill="none"/>
<path d="M1303,111.5H1350" stroke="#56b4e9" stroke-width="1" fill="none"/>
<path d="M1320.5,124.5h12v12h-12z" fill="none" stroke="#e69f00" stroke-width="1"/>
<path d="M1320.1,143.1h12.8v12.8h-12.8z" fill="#f0e442"/>
<circle cx="1326.5" cy="168.5" r="5.6" fill="none" stroke="#0072b2" stroke-width="1.1"/><path d="M1319.6,168.5h1.5M1333.4,168.5h-1.5M1326.5,161.6v1.5M1326.5,175.4v-1.5" stroke="#0072b2" stroke-width="1.5" fill="none"/>
<circle cx="1326.5" cy="187.5" r="6.0" fill="#e51e10"/><path d="M1319.6,187.5h1.5M1333.4,187.5h-1.5M1326.5,180.6v1.5M1326.5,194.4v-1.5" stroke="#e51e10" stroke-width="1" fill="none"/>
<path d="M1326.5,198.50L1318.50,210.50L1334.50,210.50z" fill="none" stroke="#000" stroke-width="1"/>
<path d="M1326.5,217.10L1318.10,229.70L1334.90,229.70z" fill="#9400d3"/>
<path d="M1320.5,244.5h12M1326.5,238.5v12" fill="none" stroke="#009e73" stroke-width="1"/>
<path d="M1326.5,271.50L1318.50,259.50L1334.50,259.50z" fill="none" stroke="#56b4e9" stroke-width="1"/>
<path d="M1326.5,290.50L1318.50,278.50L1334.50,278.50z" fill="none" stroke="#e69f00" stroke-width="1"/>
<g font-family="'Liberation Sans', sans-serif" font-size="16px" fill="#000" style="font-kerning:none">
<text x="81" y="542.8" text-anchor="end">0</text>
<text x="81" y="425.3" text-anchor="end">500</text>
<text x="81" y="307.9" text-anchor="end">1000</text>
<text x="81" y="190.4" text-anchor="end">1500</text>
<text x="81" y="73.0" text-anchor="end">2000</text>
<text x="91.9" y="562" text-anchor="middle">00:00</text>
<text x="198.2" y="562" text-anchor="middle">02:00</text>
<text x="304.8" y="562" text-anchor="middle">04:00</text>
<text x="411.1" y="562" text-anchor="middle">06:00</text>
<text x="516.9" y="562" text-anchor="middle">08:00</text>
<text x="624.1" y="562" text-anchor="middle">10:00</text>
<text x="730.9" y="562" text-anchor="middle">12:00</text>
<text x="837.1" y="562" text-anchor="middle">14:00</text>
<text x="943.4" y="562" text-anchor="middle">16:00</text>
<text x="1049.2" y="562" text-anchor="middle">18:00</text>
<text x="1155.9" y="562" text-anchor="middle">20:00</text>
<text x="1262.2" y="562" text-anchor="middle">22:00</text>
<text x="1366.9" y="562" text-anchor="middle">00:00</text>
<text x="729.5" y="32" text-anchor="middle" xml:space="preserve">pi27 Jul 03  near/far ICMP/TCP ping and curl times [No msmt 1AM-2AM]</text>
<text x="729.5" y="590" text-anchor="middle">&lt;-START at 2AM Yday, right to 12AM Tday-&gt;, then wrap left to 1AM Tday&lt;- [ignore connecting lines]</text>
<text transform="translate(17,299.5) rotate(-90)" text-anchor="middle">msec</text>
<text x="1290" y="77.0" text-anchor="end">"Ypingresult.txt" using 1:2</text>
<text x="1290" y="96.1" text-anchor="end">"YTimetcpping.txt" using 1:2</text>
<text x="1290" y="115.2" text-anchor="end">"YCustPingSiteTimes.txt" using 1:2</text>
<text x="1290" y="134.3" text-anchor="end">"Yofflineresult.txt" using 1:2</text>
<text x="1290" y="153.4" text-anchor="end">"Ytcpoff_record.txt" using 1:2</text>
<text x="1290" y="172.5" text-anchor="end">"Ycurltime.txt" using 1:2</text>
<text x="1290" y="191.6" text-anchor="end">"Ycurldnstime.txt" using 1:2</text>
<text x="1290" y="210.7" text-anchor="end">"YCustPingTimeout.txt" using 1:2</text>
<text x="1290" y="229.8" text-anchor="end">"Ypingtargetchange" using 1:2</text>
<text x="1290" y="248.9" text-anchor="end">"YHPpingresult.txt" using 1:2</text>
<text x="1290" y="268.0" text-anchor="end">"YpingtargetISrouter" using 1:2</text>
<text x="1290" y="287.1" text-anchor="end">"Ynoipv6" using 1:2</text>
</g>
<rect x="94.5" y="57.5" width="1275.0" height="482.0" fill="none" stroke="#000" stroke-width="1"/>
</svg></body></html>
